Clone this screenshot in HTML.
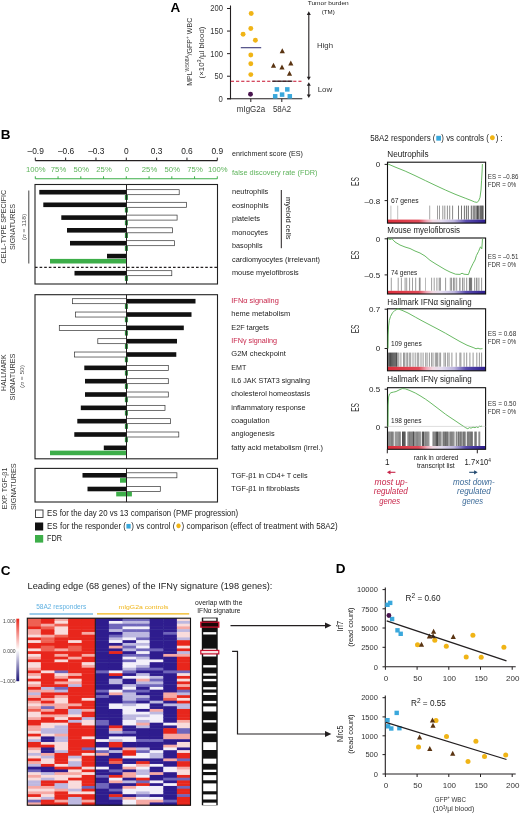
<!DOCTYPE html>
<html><head><meta charset="utf-8"><style>
html,body{margin:0;padding:0;background:#fff;}
svg{display:block;font-family:"Liberation Sans", sans-serif;will-change:transform;}
</style></head><body>
<svg width="520" height="815" viewBox="0 0 520 815">
<defs>
<linearGradient id="rg" x1="0" x2="1" y1="0" y2="0">
<stop offset="0" stop-color="#dc2f3c"/><stop offset="0.32" stop-color="#e04a58"/>
<stop offset="0.40" stop-color="#f0a8b8"/><stop offset="0.46" stop-color="#f2d8e2"/>
<stop offset="0.55" stop-color="#e4dcf0"/><stop offset="0.68" stop-color="#bcb4de"/>
<stop offset="0.80" stop-color="#5a4cae"/><stop offset="1" stop-color="#2c1c8c"/>
</linearGradient>
<filter id="hb" x="-0.02" y="-0.02" width="1.04" height="1.04"><feGaussianBlur stdDeviation="0.35"/></filter>
<linearGradient id="cs" x1="0" x2="0" y1="0" y2="1">
<stop offset="0" stop-color="#e8281c"/><stop offset="0.5" stop-color="#ffffff"/><stop offset="1" stop-color="#1c1478"/>
</linearGradient>
</defs>
<text x="170.50" y="12.20" font-size="13.5" fill="#000" text-anchor="start" font-weight="bold" >A</text>
<line x1="230.50" y1="5.50" x2="230.50" y2="99.30" stroke="#231f20" stroke-width="1.1" />
<line x1="227.00" y1="98.80" x2="230.50" y2="98.80" stroke="#231f20" stroke-width="1" />
<text x="222.90" y="101.70" font-size="8.3" fill="#333" text-anchor="end" textLength="4.30" lengthAdjust="spacingAndGlyphs" >0</text>
<line x1="227.00" y1="76.22" x2="230.50" y2="76.22" stroke="#231f20" stroke-width="1" />
<text x="222.90" y="79.12" font-size="8.3" fill="#333" text-anchor="end" textLength="8.30" lengthAdjust="spacingAndGlyphs" >50</text>
<line x1="227.00" y1="53.65" x2="230.50" y2="53.65" stroke="#231f20" stroke-width="1" />
<text x="222.90" y="56.55" font-size="8.3" fill="#333" text-anchor="end" textLength="12.70" lengthAdjust="spacingAndGlyphs" >100</text>
<line x1="227.00" y1="31.07" x2="230.50" y2="31.07" stroke="#231f20" stroke-width="1" />
<text x="222.90" y="33.97" font-size="8.3" fill="#333" text-anchor="end" textLength="12.70" lengthAdjust="spacingAndGlyphs" >150</text>
<line x1="227.00" y1="8.50" x2="230.50" y2="8.50" stroke="#231f20" stroke-width="1" />
<text x="222.90" y="11.40" font-size="8.3" fill="#333" text-anchor="end" textLength="12.70" lengthAdjust="spacingAndGlyphs" >200</text>
<line x1="227.00" y1="98.80" x2="302.30" y2="98.80" stroke="#231f20" stroke-width="1.1" />
<line x1="250.80" y1="98.80" x2="250.80" y2="102.00" stroke="#231f20" stroke-width="1" />
<line x1="281.80" y1="98.80" x2="281.80" y2="102.00" stroke="#231f20" stroke-width="1" />
<text x="251.00" y="112.30" font-size="8.2" fill="#333" text-anchor="middle" textLength="28.30" lengthAdjust="spacingAndGlyphs" >mIgG2a</text>
<text x="282.00" y="112.30" font-size="8.2" fill="#333" text-anchor="middle" textLength="18.20" lengthAdjust="spacingAndGlyphs" >58A2</text>
<text x="189.6" y="51.8" font-size="8.0" fill="#333" text-anchor="middle" transform="rotate(-90 189.6 51.8)" dy="2.8" textLength="68" lengthAdjust="spacingAndGlyphs">MPL<tspan font-size="5.6" dy="-2.9">W508A</tspan><tspan dy="2.9">/GFP</tspan><tspan font-size="5.6" dy="-2.9">+</tspan><tspan dy="2.9"> WBC</tspan></text>
<text x="201.3" y="52.5" font-size="7.4" fill="#333" text-anchor="middle" transform="rotate(-90 201.3 52.5)" dy="2.5" textLength="52" lengthAdjust="spacingAndGlyphs">(×10<tspan font-size="5.2" dy="-2.7">3</tspan><tspan dy="2.7">/µl blood)</tspan></text>
<circle cx="251.20" cy="13.50" r="2.45" fill="#f0b416"/>
<circle cx="250.80" cy="28.50" r="2.45" fill="#f0b416"/>
<circle cx="243.10" cy="34.20" r="2.45" fill="#f0b416"/>
<circle cx="255.40" cy="40.30" r="2.45" fill="#f0b416"/>
<circle cx="250.80" cy="55.00" r="2.45" fill="#f0b416"/>
<circle cx="250.80" cy="63.80" r="2.45" fill="#f0b416"/>
<circle cx="250.80" cy="74.60" r="2.45" fill="#f0b416"/>
<circle cx="250.50" cy="94.30" r="2.45" fill="#4a1650"/>
<line x1="240.80" y1="47.70" x2="261.20" y2="47.70" stroke="#3b3a78" stroke-width="1.1" />
<polygon points="282.30,48.16 279.70,53.14 284.90,53.14" fill="#5a3412"/>
<polygon points="273.50,62.76 270.90,67.74 276.10,67.74" fill="#5a3412"/>
<polygon points="282.00,64.56 279.40,69.54 284.60,69.54" fill="#5a3412"/>
<polygon points="290.80,60.46 288.20,65.44 293.40,65.44" fill="#5a3412"/>
<polygon points="289.50,70.76 286.90,75.74 292.10,75.74" fill="#5a3412"/>
<rect x="274.65" y="87.15" width="4.50" height="4.50" fill="#3aa8dc"/>
<rect x="285.05" y="87.15" width="4.50" height="4.50" fill="#3aa8dc"/>
<rect x="272.95" y="94.05" width="4.50" height="4.50" fill="#3aa8dc"/>
<rect x="279.85" y="92.35" width="4.50" height="4.50" fill="#3aa8dc"/>
<rect x="287.55" y="94.05" width="4.50" height="4.50" fill="#3aa8dc"/>
<line x1="230.80" y1="81.20" x2="301.50" y2="81.20" stroke="#c8102e" stroke-width="1.1" stroke-dasharray="3.2 2"/>
<line x1="272.30" y1="81.20" x2="292.30" y2="81.20" stroke="#231f20" stroke-width="1.2" />
<text x="328.20" y="5.40" font-size="6.2" fill="#222" text-anchor="middle" textLength="41.00" lengthAdjust="spacingAndGlyphs" >Tumor burden</text>
<text x="328.20" y="13.80" font-size="6.2" fill="#222" text-anchor="middle" textLength="13.00" lengthAdjust="spacingAndGlyphs" >(TM)</text>
<line x1="308.80" y1="13.80" x2="308.80" y2="77.80" stroke="#231f20" stroke-width="1.1" />
<polygon points="308.8,11.3 306.8,14.9 310.8,14.9" fill="#231f20"/>
<polygon points="308.8,80.3 306.8,76.7 310.8,76.7" fill="#231f20"/>
<line x1="308.80" y1="84.70" x2="308.80" y2="95.50" stroke="#231f20" stroke-width="1.1" />
<polygon points="308.8,82.2 306.8,85.8 310.8,85.8" fill="#231f20"/>
<polygon points="308.8,98.0 306.8,94.4 310.8,94.4" fill="#231f20"/>
<text x="317.00" y="48.30" font-size="8.0" fill="#333" text-anchor="start" textLength="16.00" lengthAdjust="spacingAndGlyphs" >High</text>
<text x="317.70" y="92.10" font-size="8.0" fill="#333" text-anchor="start" textLength="14.60" lengthAdjust="spacingAndGlyphs" >Low</text>
<text x="0.80" y="138.80" font-size="13.5" fill="#000" text-anchor="start" font-weight="bold" >B</text>
<line x1="35.30" y1="160.60" x2="217.30" y2="160.60" stroke="#231f20" stroke-width="1.1" />
<line x1="35.31" y1="157.60" x2="35.31" y2="160.60" stroke="#231f20" stroke-width="1" />
<text x="35.71" y="153.90" font-size="8.4" fill="#222" text-anchor="middle" >–0.9</text>
<line x1="65.64" y1="157.60" x2="65.64" y2="160.60" stroke="#231f20" stroke-width="1" />
<text x="66.04" y="153.90" font-size="8.4" fill="#222" text-anchor="middle" >–0.6</text>
<line x1="95.97" y1="157.60" x2="95.97" y2="160.60" stroke="#231f20" stroke-width="1" />
<text x="96.37" y="153.90" font-size="8.4" fill="#222" text-anchor="middle" >–0.3</text>
<line x1="126.30" y1="157.60" x2="126.30" y2="160.60" stroke="#231f20" stroke-width="1" />
<text x="126.30" y="153.90" font-size="8.4" fill="#222" text-anchor="middle" >0</text>
<line x1="156.63" y1="157.60" x2="156.63" y2="160.60" stroke="#231f20" stroke-width="1" />
<text x="156.63" y="153.90" font-size="8.4" fill="#222" text-anchor="middle" >0.3</text>
<line x1="186.96" y1="157.60" x2="186.96" y2="160.60" stroke="#231f20" stroke-width="1" />
<text x="186.96" y="153.90" font-size="8.4" fill="#222" text-anchor="middle" >0.6</text>
<line x1="217.29" y1="157.60" x2="217.29" y2="160.60" stroke="#231f20" stroke-width="1" />
<text x="217.29" y="153.90" font-size="8.4" fill="#222" text-anchor="middle" >0.9</text>
<line x1="35.30" y1="178.80" x2="217.30" y2="178.80" stroke="#3dae49" stroke-width="1.1" />
<line x1="35.30" y1="176.30" x2="35.30" y2="178.80" stroke="#3dae49" stroke-width="1" />
<text x="35.80" y="172.10" font-size="7.7" fill="#5db35a" text-anchor="middle" >100%</text>
<line x1="58.05" y1="176.30" x2="58.05" y2="178.80" stroke="#3dae49" stroke-width="1" />
<text x="58.55" y="172.10" font-size="7.7" fill="#5db35a" text-anchor="middle" >75%</text>
<line x1="80.80" y1="176.30" x2="80.80" y2="178.80" stroke="#3dae49" stroke-width="1" />
<text x="81.30" y="172.10" font-size="7.7" fill="#5db35a" text-anchor="middle" >50%</text>
<line x1="103.55" y1="176.30" x2="103.55" y2="178.80" stroke="#3dae49" stroke-width="1" />
<text x="104.05" y="172.10" font-size="7.7" fill="#5db35a" text-anchor="middle" >25%</text>
<line x1="126.30" y1="176.30" x2="126.30" y2="178.80" stroke="#3dae49" stroke-width="1" />
<text x="126.80" y="172.10" font-size="7.7" fill="#5db35a" text-anchor="middle" >0</text>
<line x1="149.05" y1="176.30" x2="149.05" y2="178.80" stroke="#3dae49" stroke-width="1" />
<text x="149.55" y="172.10" font-size="7.7" fill="#5db35a" text-anchor="middle" >25%</text>
<line x1="171.80" y1="176.30" x2="171.80" y2="178.80" stroke="#3dae49" stroke-width="1" />
<text x="172.30" y="172.10" font-size="7.7" fill="#5db35a" text-anchor="middle" >50%</text>
<line x1="194.55" y1="176.30" x2="194.55" y2="178.80" stroke="#3dae49" stroke-width="1" />
<text x="195.05" y="172.10" font-size="7.7" fill="#5db35a" text-anchor="middle" >75%</text>
<line x1="217.30" y1="176.30" x2="217.30" y2="178.80" stroke="#3dae49" stroke-width="1" />
<text x="217.80" y="172.10" font-size="7.7" fill="#5db35a" text-anchor="middle" >100%</text>
<text x="232.00" y="155.60" font-size="7.4" fill="#222" text-anchor="start" textLength="71.00" lengthAdjust="spacingAndGlyphs" >enrichment score (ES)</text>
<text x="232.00" y="174.60" font-size="7.4" fill="#5db35a" text-anchor="start" textLength="85.50" lengthAdjust="spacingAndGlyphs" >false discovery rate (FDR)</text>
<rect x="35.00" y="184.50" width="182.50" height="99.50" fill="none" stroke="#222" stroke-width="1.1"/>
<rect x="39.30" y="189.90" width="87.20" height="4.60" fill="#111"/>
<rect x="126.50" y="189.70" width="52.70" height="5.00" fill="#fff" stroke="#333" stroke-width="0.7"/>
<rect x="124.90" y="194.90" width="3.00" height="5.00" fill="#2a8a3a"/>
<rect x="43.30" y="202.50" width="83.20" height="4.60" fill="#111"/>
<rect x="126.50" y="202.30" width="60.10" height="5.00" fill="#fff" stroke="#333" stroke-width="0.7"/>
<rect x="124.90" y="207.50" width="3.00" height="5.00" fill="#2a8a3a"/>
<rect x="61.30" y="215.30" width="65.20" height="4.60" fill="#111"/>
<rect x="126.50" y="215.10" width="50.60" height="5.00" fill="#fff" stroke="#333" stroke-width="0.7"/>
<rect x="124.90" y="220.30" width="3.00" height="5.00" fill="#2a8a3a"/>
<rect x="67.00" y="228.00" width="59.50" height="4.60" fill="#111"/>
<rect x="126.50" y="227.80" width="46.00" height="5.00" fill="#fff" stroke="#333" stroke-width="0.7"/>
<rect x="124.90" y="233.00" width="3.00" height="5.00" fill="#2a8a3a"/>
<rect x="70.00" y="240.90" width="56.50" height="4.60" fill="#111"/>
<rect x="126.50" y="240.70" width="48.10" height="5.00" fill="#fff" stroke="#333" stroke-width="0.7"/>
<rect x="124.90" y="245.90" width="3.00" height="5.00" fill="#2a8a3a"/>
<rect x="107.00" y="253.80" width="19.50" height="4.60" fill="#111"/>
<rect x="50.00" y="258.90" width="76.50" height="4.60" fill="#3dae49"/>
<line x1="35.00" y1="267.40" x2="217.50" y2="267.40" stroke="#231f20" stroke-width="1.1" stroke-dasharray="2.6 2"/>
<rect x="74.50" y="270.90" width="52.00" height="4.60" fill="#111"/>
<rect x="126.50" y="270.70" width="45.30" height="5.00" fill="#fff" stroke="#333" stroke-width="0.7"/>
<rect x="124.90" y="275.90" width="3.00" height="5.00" fill="#2a8a3a"/>
<line x1="126.50" y1="184.50" x2="126.50" y2="284.00" stroke="#231f20" stroke-width="1" />
<rect x="35.00" y="294.70" width="182.50" height="164.10" fill="none" stroke="#222" stroke-width="1.1"/>
<rect x="126.50" y="298.90" width="69.00" height="4.60" fill="#111"/>
<rect x="72.50" y="298.70" width="54.00" height="5.00" fill="#fff" stroke="#333" stroke-width="0.7"/>
<rect x="124.90" y="303.90" width="3.00" height="5.00" fill="#2a8a3a"/>
<rect x="126.50" y="312.23" width="65.00" height="4.60" fill="#111"/>
<rect x="75.50" y="312.03" width="51.00" height="5.00" fill="#fff" stroke="#333" stroke-width="0.7"/>
<rect x="124.90" y="317.23" width="3.00" height="5.00" fill="#2a8a3a"/>
<rect x="126.50" y="325.56" width="57.30" height="4.60" fill="#111"/>
<rect x="59.30" y="325.36" width="67.20" height="5.00" fill="#fff" stroke="#333" stroke-width="0.7"/>
<rect x="124.90" y="330.56" width="3.00" height="5.00" fill="#2a8a3a"/>
<rect x="126.50" y="338.89" width="50.50" height="4.60" fill="#111"/>
<rect x="97.80" y="338.69" width="28.70" height="5.00" fill="#fff" stroke="#333" stroke-width="0.7"/>
<rect x="124.90" y="343.89" width="3.00" height="5.00" fill="#2a8a3a"/>
<rect x="126.50" y="352.22" width="49.80" height="4.60" fill="#111"/>
<rect x="74.50" y="352.02" width="52.00" height="5.00" fill="#fff" stroke="#333" stroke-width="0.7"/>
<rect x="124.90" y="357.22" width="3.00" height="5.00" fill="#2a8a3a"/>
<rect x="84.30" y="365.55" width="42.20" height="4.60" fill="#111"/>
<rect x="126.50" y="365.35" width="41.80" height="5.00" fill="#fff" stroke="#333" stroke-width="0.7"/>
<rect x="124.90" y="370.55" width="3.00" height="5.00" fill="#2a8a3a"/>
<rect x="85.00" y="378.88" width="41.50" height="4.60" fill="#111"/>
<rect x="126.50" y="378.68" width="41.80" height="5.00" fill="#fff" stroke="#333" stroke-width="0.7"/>
<rect x="124.90" y="383.88" width="3.00" height="5.00" fill="#2a8a3a"/>
<rect x="85.00" y="392.21" width="41.50" height="4.60" fill="#111"/>
<rect x="126.50" y="392.01" width="41.80" height="5.00" fill="#fff" stroke="#333" stroke-width="0.7"/>
<rect x="124.90" y="397.21" width="3.00" height="5.00" fill="#2a8a3a"/>
<rect x="80.80" y="405.54" width="45.70" height="4.60" fill="#111"/>
<rect x="126.50" y="405.34" width="38.50" height="5.00" fill="#fff" stroke="#333" stroke-width="0.7"/>
<rect x="124.90" y="410.54" width="3.00" height="5.00" fill="#2a8a3a"/>
<rect x="77.30" y="418.87" width="49.20" height="4.60" fill="#111"/>
<rect x="126.50" y="418.67" width="44.00" height="5.00" fill="#fff" stroke="#333" stroke-width="0.7"/>
<rect x="124.90" y="423.87" width="3.00" height="5.00" fill="#2a8a3a"/>
<rect x="74.30" y="432.20" width="52.20" height="4.60" fill="#111"/>
<rect x="126.50" y="432.00" width="52.30" height="5.00" fill="#fff" stroke="#333" stroke-width="0.7"/>
<rect x="124.90" y="437.20" width="3.00" height="5.00" fill="#2a8a3a"/>
<rect x="103.80" y="445.53" width="22.70" height="4.60" fill="#111"/>
<rect x="50.00" y="450.63" width="76.50" height="4.60" fill="#3dae49"/>
<line x1="126.50" y1="294.70" x2="126.50" y2="458.80" stroke="#231f20" stroke-width="1" />
<rect x="35.00" y="468.40" width="182.50" height="33.60" fill="none" stroke="#222" stroke-width="1.1"/>
<rect x="82.50" y="473.00" width="44.00" height="4.60" fill="#111"/>
<rect x="126.50" y="472.80" width="50.40" height="5.00" fill="#fff" stroke="#333" stroke-width="0.7"/>
<rect x="120.00" y="478.10" width="6.50" height="4.60" fill="#3dae49"/>
<rect x="87.50" y="486.70" width="39.00" height="4.60" fill="#111"/>
<rect x="126.50" y="486.50" width="33.80" height="5.00" fill="#fff" stroke="#333" stroke-width="0.7"/>
<rect x="116.20" y="491.80" width="15.70" height="4.60" fill="#3dae49"/>
<line x1="126.50" y1="468.40" x2="126.50" y2="502.00" stroke="#231f20" stroke-width="1" />
<text x="232.00" y="194.25" font-size="7.8" fill="#222" text-anchor="start" textLength="36.30" lengthAdjust="spacingAndGlyphs" >neutrophils</text>
<text x="232.00" y="207.50" font-size="7.8" fill="#222" text-anchor="start" textLength="36.70" lengthAdjust="spacingAndGlyphs" >eosinophils</text>
<text x="232.00" y="221.25" font-size="7.8" fill="#222" text-anchor="start" textLength="28.00" lengthAdjust="spacingAndGlyphs" >platelets</text>
<text x="232.00" y="235.00" font-size="7.8" fill="#222" text-anchor="start" textLength="36.00" lengthAdjust="spacingAndGlyphs" >monocytes</text>
<text x="232.00" y="248.00" font-size="7.8" fill="#222" text-anchor="start" textLength="30.50" lengthAdjust="spacingAndGlyphs" >basophils</text>
<text x="232.00" y="261.50" font-size="7.8" fill="#222" text-anchor="start" textLength="88.00" lengthAdjust="spacingAndGlyphs" >cardiomyocytes (irrelevant)</text>
<text x="232.00" y="274.50" font-size="7.8" fill="#222" text-anchor="start" textLength="66.80" lengthAdjust="spacingAndGlyphs" >mouse myelofibrosis</text>
<line x1="281.30" y1="190.00" x2="281.30" y2="248.20" stroke="#231f20" stroke-width="1" />
<text x="288.80" y="218.30" font-size="7.4" fill="#222" text-anchor="middle" textLength="42.50" lengthAdjust="spacingAndGlyphs" transform="rotate(90 288.80 218.30)" dy="2.4">myeloid cells</text>
<text x="231.30" y="302.70" font-size="7.8" fill="#c8264a" text-anchor="start" textLength="47.50" lengthAdjust="spacingAndGlyphs" >IFNα signaling</text>
<text x="231.30" y="316.45" font-size="7.8" fill="#222" text-anchor="start" textLength="58.80" lengthAdjust="spacingAndGlyphs" >heme metabolism</text>
<text x="231.30" y="329.70" font-size="7.8" fill="#222" text-anchor="start" textLength="37.50" lengthAdjust="spacingAndGlyphs" >E2F targets</text>
<text x="231.30" y="342.95" font-size="7.8" fill="#c8264a" text-anchor="start" textLength="45.80" lengthAdjust="spacingAndGlyphs" >IFNγ signaling</text>
<text x="231.30" y="355.95" font-size="7.8" fill="#222" text-anchor="start" textLength="54.50" lengthAdjust="spacingAndGlyphs" >G2M checkpoint</text>
<text x="231.30" y="370.20" font-size="7.8" fill="#222" text-anchor="start" textLength="15.00" lengthAdjust="spacingAndGlyphs" >EMT</text>
<text x="231.30" y="382.95" font-size="7.8" fill="#222" text-anchor="start" textLength="78.80" lengthAdjust="spacingAndGlyphs" >IL6 JAK STAT3 signaling</text>
<text x="231.30" y="395.95" font-size="7.8" fill="#222" text-anchor="start" textLength="78.80" lengthAdjust="spacingAndGlyphs" >cholesterol homeostasis</text>
<text x="231.30" y="409.70" font-size="7.8" fill="#222" text-anchor="start" textLength="74.30" lengthAdjust="spacingAndGlyphs" >inflammatory response</text>
<text x="231.30" y="422.95" font-size="7.8" fill="#222" text-anchor="start" textLength="38.30" lengthAdjust="spacingAndGlyphs" >coagulation</text>
<text x="231.30" y="436.45" font-size="7.8" fill="#222" text-anchor="start" textLength="43.30" lengthAdjust="spacingAndGlyphs" >angiogenesis</text>
<text x="231.30" y="449.70" font-size="7.8" fill="#222" text-anchor="start" textLength="91.80" lengthAdjust="spacingAndGlyphs" >fatty acid metabolism (irrel.)</text>
<text x="231.30" y="477.60" font-size="7.9" fill="#222" text-anchor="start" textLength="76.30" lengthAdjust="spacingAndGlyphs" >TGF-β1 in CD4+ T cells</text>
<text x="231.30" y="490.60" font-size="7.9" fill="#222" text-anchor="start" textLength="68.30" lengthAdjust="spacingAndGlyphs" >TGF-β1 in fibroblasts</text>
<text x="3.70" y="226.70" font-size="7.2" fill="#333" text-anchor="middle" textLength="73.60" lengthAdjust="spacingAndGlyphs" transform="rotate(-90 3.70 226.70)" dy="2.59">CELL-TYPE SPECIFIC</text>
<text x="12.90" y="227.00" font-size="7.2" fill="#333" text-anchor="middle" textLength="46.00" lengthAdjust="spacingAndGlyphs" transform="rotate(-90 12.90 227.00)" dy="2.59">SIGNATURES</text>
<text x="23.6" y="227" font-size="5.6" fill="#555" text-anchor="middle" transform="rotate(-90 23.6 227)" dy="2" textLength="26.4" lengthAdjust="spacingAndGlyphs">(<tspan font-style="italic">n</tspan> = 118)</text>
<line x1="28.80" y1="190.50" x2="28.80" y2="263.50" stroke="#444" stroke-width="1" />
<text x="3.80" y="372.80" font-size="7.2" fill="#333" text-anchor="middle" textLength="36.40" lengthAdjust="spacingAndGlyphs" transform="rotate(-90 3.80 372.80)" dy="2.59">HALLMARK</text>
<text x="12.50" y="377.00" font-size="7.2" fill="#333" text-anchor="middle" textLength="47.00" lengthAdjust="spacingAndGlyphs" transform="rotate(-90 12.50 377.00)" dy="2.59">SIGNATURES</text>
<text x="22.4" y="376.5" font-size="5.6" fill="#555" text-anchor="middle" transform="rotate(-90 22.4 376.5)" dy="2" textLength="23" lengthAdjust="spacingAndGlyphs">(<tspan font-style="italic">n</tspan> = 50)</text>
<text x="4.10" y="488.50" font-size="7.2" fill="#333" text-anchor="middle" textLength="41.70" lengthAdjust="spacingAndGlyphs" transform="rotate(-90 4.10 488.50)" dy="2.59">EXP. TGF-β1</text>
<text x="13.50" y="486.70" font-size="7.2" fill="#333" text-anchor="middle" textLength="46.70" lengthAdjust="spacingAndGlyphs" transform="rotate(-90 13.50 486.70)" dy="2.59">SIGNATURES</text>
<rect x="35.50" y="510.00" width="7.50" height="7.50" fill="#fff" stroke="#333" stroke-width="0.9"/>
<rect x="35.00" y="522.50" width="8.20" height="8.00" fill="#111"/>
<rect x="35.00" y="535.00" width="8.20" height="7.60" fill="#3dae49"/>
<text x="47.00" y="516.40" font-size="8.8" fill="#222" text-anchor="start" textLength="191.20" lengthAdjust="spacingAndGlyphs" >ES for the day 20 vs 13 comparison (PMF progression)</text>
<text x="47" y="528.6" font-size="8.8" fill="#222" textLength="290.7" lengthAdjust="spacingAndGlyphs">ES for the responder (<tspan fill="#3aa8dc" font-size="9.5">■</tspan>) vs control (<tspan fill="#f0b416" font-size="11">●</tspan>) comparison (effect of treatment with 58A2)</text>
<text x="47.00" y="541.30" font-size="8.8" fill="#222" text-anchor="start" textLength="15.00" lengthAdjust="spacingAndGlyphs" >FDR</text>
<text x="370.2" y="140.8" font-size="8.2" fill="#222" textLength="132.5" lengthAdjust="spacingAndGlyphs">58A2 responders (<tspan fill="#3aa8dc" font-size="10">■</tspan>) vs controls (<tspan fill="#f0b416" font-size="11.5">●</tspan>) :</text>
<text x="387.30" y="157.00" font-size="8.5" fill="#222" text-anchor="start" textLength="41.30" lengthAdjust="spacingAndGlyphs" >Neutrophils</text>
<line x1="390.90" y1="205.60" x2="390.90" y2="219.60" stroke="rgb(177,177,177)" stroke-width="0.8" />
<line x1="397.70" y1="205.60" x2="397.70" y2="219.60" stroke="rgb(175,175,175)" stroke-width="0.8" />
<line x1="429.70" y1="205.60" x2="429.70" y2="219.60" stroke="rgb(147,147,147)" stroke-width="0.8" />
<line x1="437.50" y1="205.60" x2="437.50" y2="219.60" stroke="rgb(134,134,134)" stroke-width="0.8" />
<line x1="439.50" y1="205.60" x2="439.50" y2="219.60" stroke="rgb(131,131,131)" stroke-width="0.8" />
<line x1="442.80" y1="205.60" x2="442.80" y2="219.60" stroke="rgb(125,125,125)" stroke-width="0.8" />
<line x1="444.80" y1="205.60" x2="444.80" y2="219.60" stroke="rgb(121,121,121)" stroke-width="0.8" />
<line x1="447.40" y1="205.60" x2="447.40" y2="219.60" stroke="rgb(115,115,115)" stroke-width="0.8" />
<line x1="449.70" y1="205.60" x2="449.70" y2="219.60" stroke="rgb(111,111,111)" stroke-width="0.8" />
<line x1="452.60" y1="205.60" x2="452.60" y2="219.60" stroke="rgb(104,104,104)" stroke-width="0.8" />
<line x1="458.50" y1="205.60" x2="458.50" y2="219.60" stroke="rgb(90,90,90)" stroke-width="0.8" />
<line x1="461.50" y1="205.60" x2="461.50" y2="219.60" stroke="rgb(83,83,83)" stroke-width="0.8" />
<line x1="464.40" y1="205.60" x2="464.40" y2="219.60" stroke="rgb(75,75,75)" stroke-width="0.8" />
<line x1="466.40" y1="205.60" x2="466.40" y2="219.60" stroke="rgb(70,70,70)" stroke-width="0.8" />
<line x1="468.30" y1="205.60" x2="468.30" y2="219.60" stroke="rgb(64,64,64)" stroke-width="0.8" />
<line x1="471.30" y1="205.60" x2="471.30" y2="219.60" stroke="rgb(56,56,56)" stroke-width="0.8" />
<line x1="473.20" y1="205.60" x2="473.20" y2="219.60" stroke="rgb(50,50,50)" stroke-width="0.8" />
<line x1="474.80" y1="205.60" x2="474.80" y2="219.60" stroke="rgb(46,46,46)" stroke-width="0.8" />
<line x1="476.20" y1="205.60" x2="476.20" y2="219.60" stroke="rgb(41,41,41)" stroke-width="0.8" />
<line x1="477.50" y1="205.60" x2="477.50" y2="219.60" stroke="rgb(37,37,37)" stroke-width="0.8" />
<line x1="478.70" y1="205.60" x2="478.70" y2="219.60" stroke="rgb(33,33,33)" stroke-width="0.8" />
<line x1="480.10" y1="205.60" x2="480.10" y2="219.60" stroke="rgb(29,29,29)" stroke-width="0.8" />
<line x1="481.10" y1="205.60" x2="481.10" y2="219.60" stroke="rgb(26,26,26)" stroke-width="0.8" />
<line x1="482.10" y1="205.60" x2="482.10" y2="219.60" stroke="rgb(22,22,22)" stroke-width="0.8" />
<line x1="483.00" y1="205.60" x2="483.00" y2="219.60" stroke="rgb(20,20,20)" stroke-width="0.8" />
<rect x="387.50" y="219.60" width="98.10" height="3.50" fill="url(#rg)"/>
<rect x="387.50" y="162.20" width="98.10" height="60.90" fill="none" stroke="#111" stroke-width="1.1"/>
<line x1="384.60" y1="164.40" x2="387.50" y2="164.40" stroke="#231f20" stroke-width="1" />
<text x="380.20" y="167.30" font-size="8.0" fill="#222" text-anchor="end" >0</text>
<line x1="384.60" y1="200.60" x2="387.50" y2="200.60" stroke="#231f20" stroke-width="1" />
<text x="380.20" y="203.50" font-size="8.0" fill="#222" text-anchor="end" >–0.8</text>
<text x="391.00" y="203.40" font-size="7.6" fill="#222" text-anchor="start" textLength="27.70" lengthAdjust="spacingAndGlyphs" >67 genes</text>
<polyline points="388,164 395,167 405.2,171.1 415,175.6 425.4,180.6 435,185.2 445.6,190.1 455,194.2 465.8,198.4 471,200.4 474.5,201.9 476.9,202.4 478.5,201.2 480,197.4 481,190 481.6,180.2 482.1,171 482.4,164" fill="none" stroke="#58b152" stroke-width="0.9"/>
<text x="487.80" y="179.30" font-size="7.0" fill="#333" text-anchor="start" textLength="30.50" lengthAdjust="spacingAndGlyphs" >ES = –0.86</text>
<text x="487.80" y="187.30" font-size="7.0" fill="#333" text-anchor="start" textLength="28.50" lengthAdjust="spacingAndGlyphs" >FDR = 0%</text>
<text x="355.00" y="181.50" font-size="11" fill="#333" text-anchor="middle" textLength="8.80" lengthAdjust="spacingAndGlyphs" transform="rotate(-90 355.00 181.50)" dy="3.9">ES</text>
<text x="387.30" y="232.70" font-size="8.5" fill="#222" text-anchor="start" textLength="72.60" lengthAdjust="spacingAndGlyphs" >Mouse myelofibrosis</text>
<line x1="391.30" y1="277.70" x2="391.30" y2="290.80" stroke="rgb(135,135,135)" stroke-width="0.8" />
<line x1="398.20" y1="277.70" x2="398.20" y2="290.80" stroke="rgb(135,135,135)" stroke-width="0.8" />
<line x1="401.40" y1="277.70" x2="401.40" y2="290.80" stroke="rgb(135,135,135)" stroke-width="0.8" />
<line x1="405.10" y1="277.70" x2="405.10" y2="290.80" stroke="rgb(125,125,125)" stroke-width="0.8" />
<line x1="406.70" y1="277.70" x2="406.70" y2="290.80" stroke="rgb(135,135,135)" stroke-width="0.8" />
<line x1="409.60" y1="277.70" x2="409.60" y2="290.80" stroke="rgb(125,125,125)" stroke-width="0.8" />
<line x1="412.50" y1="277.70" x2="412.50" y2="290.80" stroke="rgb(135,135,135)" stroke-width="0.8" />
<line x1="415.70" y1="277.70" x2="415.70" y2="290.80" stroke="rgb(125,125,125)" stroke-width="0.8" />
<line x1="419.40" y1="277.70" x2="419.40" y2="290.80" stroke="rgb(114,114,114)" stroke-width="0.8" />
<line x1="420.10" y1="277.70" x2="420.10" y2="290.80" stroke="rgb(125,125,125)" stroke-width="0.8" />
<line x1="425.50" y1="277.70" x2="425.50" y2="290.80" stroke="rgb(167,167,167)" stroke-width="0.8" />
<line x1="431.60" y1="277.70" x2="431.60" y2="290.80" stroke="rgb(135,135,135)" stroke-width="0.8" />
<line x1="434.20" y1="277.70" x2="434.20" y2="290.80" stroke="rgb(135,135,135)" stroke-width="0.8" />
<line x1="436.90" y1="277.70" x2="436.90" y2="290.80" stroke="rgb(125,125,125)" stroke-width="0.8" />
<line x1="439.20" y1="277.70" x2="439.20" y2="290.80" stroke="rgb(114,114,114)" stroke-width="0.8" />
<line x1="440.30" y1="277.70" x2="440.30" y2="290.80" stroke="rgb(104,104,104)" stroke-width="0.8" />
<line x1="445.60" y1="277.70" x2="445.60" y2="290.80" stroke="rgb(125,125,125)" stroke-width="0.8" />
<line x1="450.30" y1="277.70" x2="450.30" y2="290.80" stroke="rgb(125,125,125)" stroke-width="0.8" />
<line x1="451.60" y1="277.70" x2="451.60" y2="290.80" stroke="rgb(114,114,114)" stroke-width="0.8" />
<line x1="453.50" y1="277.70" x2="453.50" y2="290.80" stroke="rgb(125,125,125)" stroke-width="0.8" />
<line x1="454.80" y1="277.70" x2="454.80" y2="290.80" stroke="rgb(114,114,114)" stroke-width="0.8" />
<line x1="456.70" y1="277.70" x2="456.70" y2="290.80" stroke="rgb(125,125,125)" stroke-width="0.8" />
<line x1="459.90" y1="277.70" x2="459.90" y2="290.80" stroke="rgb(72,72,72)" stroke-width="0.8" />
<line x1="462.50" y1="277.70" x2="462.50" y2="290.80" stroke="rgb(125,125,125)" stroke-width="0.8" />
<line x1="464.10" y1="277.70" x2="464.10" y2="290.80" stroke="rgb(114,114,114)" stroke-width="0.8" />
<line x1="466.70" y1="277.70" x2="466.70" y2="290.80" stroke="rgb(114,114,114)" stroke-width="0.8" />
<line x1="469.40" y1="277.70" x2="469.40" y2="290.80" stroke="rgb(72,72,72)" stroke-width="0.8" />
<line x1="470.40" y1="277.70" x2="470.40" y2="290.80" stroke="rgb(62,62,62)" stroke-width="0.8" />
<line x1="471.60" y1="277.70" x2="471.60" y2="290.80" stroke="rgb(72,72,72)" stroke-width="0.8" />
<line x1="474.70" y1="277.70" x2="474.70" y2="290.80" stroke="rgb(114,114,114)" stroke-width="0.8" />
<line x1="476.80" y1="277.70" x2="476.80" y2="290.80" stroke="rgb(62,62,62)" stroke-width="0.8" />
<line x1="478.90" y1="277.70" x2="478.90" y2="290.80" stroke="rgb(114,114,114)" stroke-width="0.8" />
<line x1="481.60" y1="277.70" x2="481.60" y2="290.80" stroke="rgb(125,125,125)" stroke-width="0.8" />
<rect x="387.50" y="290.80" width="98.10" height="3.20" fill="url(#rg)"/>
<rect x="387.50" y="238.00" width="98.10" height="56.00" fill="none" stroke="#111" stroke-width="1.1"/>
<line x1="384.60" y1="238.80" x2="387.50" y2="238.80" stroke="#231f20" stroke-width="1" />
<text x="380.20" y="241.70" font-size="8.0" fill="#222" text-anchor="end" >0</text>
<line x1="384.60" y1="274.90" x2="387.50" y2="274.90" stroke="#231f20" stroke-width="1" />
<text x="380.20" y="277.80" font-size="8.0" fill="#222" text-anchor="end" >–0.5</text>
<text x="391.00" y="275.40" font-size="7.6" fill="#222" text-anchor="start" textLength="26.20" lengthAdjust="spacingAndGlyphs" >74 genes</text>
<polyline points="388,238.6 390,239.5 392,238.8 395,242 400,245 405,247 410,248.5 415,251 420,253 425,256 430,260.3 435,263.5 440,266.5 445,269.5 450,272 455.6,274.2 460,274.4 462,273.2 464,274.2 468.4,274.6 470.4,269 473,263.6 475,260 476.4,255.6 478.5,251.5 480.5,246.8 481.8,248.8 482.5,238.7" fill="none" stroke="#58b152" stroke-width="0.9"/>
<text x="487.80" y="258.70" font-size="7.0" fill="#333" text-anchor="start" textLength="30.50" lengthAdjust="spacingAndGlyphs" >ES = –0.51</text>
<text x="487.80" y="266.80" font-size="7.0" fill="#333" text-anchor="start" textLength="28.50" lengthAdjust="spacingAndGlyphs" >FDR = 0%</text>
<text x="355.00" y="254.90" font-size="11" fill="#333" text-anchor="middle" textLength="8.80" lengthAdjust="spacingAndGlyphs" transform="rotate(-90 355.00 254.90)" dy="3.9">ES</text>
<text x="387.30" y="305.20" font-size="8.5" fill="#222" text-anchor="start" textLength="84.30" lengthAdjust="spacingAndGlyphs" >Hallmark IFNα signaling</text>
<line x1="388.70" y1="352.60" x2="388.70" y2="366.80" stroke="rgb(41,41,41)" stroke-width="0.8" />
<line x1="389.60" y1="352.60" x2="389.60" y2="366.80" stroke="rgb(41,41,41)" stroke-width="0.8" />
<line x1="390.50" y1="352.60" x2="390.50" y2="366.80" stroke="rgb(41,41,41)" stroke-width="0.8" />
<line x1="391.40" y1="352.60" x2="391.40" y2="366.80" stroke="rgb(41,41,41)" stroke-width="0.8" />
<line x1="392.30" y1="352.60" x2="392.30" y2="366.80" stroke="rgb(41,41,41)" stroke-width="0.8" />
<line x1="393.20" y1="352.60" x2="393.20" y2="366.80" stroke="rgb(41,41,41)" stroke-width="0.8" />
<line x1="394.10" y1="352.60" x2="394.10" y2="366.80" stroke="rgb(41,41,41)" stroke-width="0.8" />
<line x1="395.00" y1="352.60" x2="395.00" y2="366.80" stroke="rgb(41,41,41)" stroke-width="0.8" />
<line x1="395.90" y1="352.60" x2="395.90" y2="366.80" stroke="rgb(41,41,41)" stroke-width="0.8" />
<line x1="396.60" y1="352.60" x2="396.60" y2="366.80" stroke="rgb(41,41,41)" stroke-width="0.8" />
<line x1="397.70" y1="352.60" x2="397.70" y2="366.80" stroke="rgb(125,125,125)" stroke-width="0.8" />
<line x1="398.80" y1="352.60" x2="398.80" y2="366.80" stroke="rgb(125,125,125)" stroke-width="0.8" />
<line x1="400.90" y1="352.60" x2="400.90" y2="366.80" stroke="rgb(125,125,125)" stroke-width="0.8" />
<line x1="403.50" y1="352.60" x2="403.50" y2="366.80" stroke="rgb(125,125,125)" stroke-width="0.8" />
<line x1="404.60" y1="352.60" x2="404.60" y2="366.80" stroke="rgb(125,125,125)" stroke-width="0.8" />
<line x1="406.20" y1="352.60" x2="406.20" y2="366.80" stroke="rgb(125,125,125)" stroke-width="0.8" />
<line x1="407.60" y1="352.60" x2="407.60" y2="366.80" stroke="rgb(125,125,125)" stroke-width="0.8" />
<line x1="409.30" y1="352.60" x2="409.30" y2="366.80" stroke="rgb(125,125,125)" stroke-width="0.8" />
<line x1="410.70" y1="352.60" x2="410.70" y2="366.80" stroke="rgb(125,125,125)" stroke-width="0.8" />
<line x1="413.00" y1="352.60" x2="413.00" y2="366.80" stroke="rgb(125,125,125)" stroke-width="0.8" />
<line x1="415.20" y1="352.60" x2="415.20" y2="366.80" stroke="rgb(125,125,125)" stroke-width="0.8" />
<line x1="417.30" y1="352.60" x2="417.30" y2="366.80" stroke="rgb(125,125,125)" stroke-width="0.8" />
<line x1="418.70" y1="352.60" x2="418.70" y2="366.80" stroke="rgb(125,125,125)" stroke-width="0.8" />
<line x1="421.00" y1="352.60" x2="421.00" y2="366.80" stroke="rgb(125,125,125)" stroke-width="0.8" />
<line x1="423.10" y1="352.60" x2="423.10" y2="366.80" stroke="rgb(125,125,125)" stroke-width="0.8" />
<line x1="425.70" y1="352.60" x2="425.70" y2="366.80" stroke="rgb(125,125,125)" stroke-width="0.8" />
<line x1="427.10" y1="352.60" x2="427.10" y2="366.80" stroke="rgb(125,125,125)" stroke-width="0.8" />
<line x1="429.40" y1="352.60" x2="429.40" y2="366.80" stroke="rgb(125,125,125)" stroke-width="0.8" />
<line x1="431.60" y1="352.60" x2="431.60" y2="366.80" stroke="rgb(125,125,125)" stroke-width="0.8" />
<line x1="433.00" y1="352.60" x2="433.00" y2="366.80" stroke="rgb(125,125,125)" stroke-width="0.8" />
<line x1="435.30" y1="352.60" x2="435.30" y2="366.80" stroke="rgb(125,125,125)" stroke-width="0.8" />
<line x1="436.40" y1="352.60" x2="436.40" y2="366.80" stroke="rgb(125,125,125)" stroke-width="0.8" />
<line x1="437.40" y1="352.60" x2="437.40" y2="366.80" stroke="rgb(125,125,125)" stroke-width="0.8" />
<line x1="439.20" y1="352.60" x2="439.20" y2="366.80" stroke="rgb(125,125,125)" stroke-width="0.8" />
<line x1="440.60" y1="352.60" x2="440.60" y2="366.80" stroke="rgb(125,125,125)" stroke-width="0.8" />
<line x1="444.00" y1="352.60" x2="444.00" y2="366.80" stroke="rgb(125,125,125)" stroke-width="0.8" />
<line x1="445.40" y1="352.60" x2="445.40" y2="366.80" stroke="rgb(125,125,125)" stroke-width="0.8" />
<line x1="447.70" y1="352.60" x2="447.70" y2="366.80" stroke="rgb(125,125,125)" stroke-width="0.8" />
<line x1="449.10" y1="352.60" x2="449.10" y2="366.80" stroke="rgb(125,125,125)" stroke-width="0.8" />
<line x1="451.90" y1="352.60" x2="451.90" y2="366.80" stroke="rgb(125,125,125)" stroke-width="0.8" />
<line x1="456.20" y1="352.60" x2="456.20" y2="366.80" stroke="rgb(125,125,125)" stroke-width="0.8" />
<line x1="459.90" y1="352.60" x2="459.90" y2="366.80" stroke="rgb(125,125,125)" stroke-width="0.8" />
<line x1="460.90" y1="352.60" x2="460.90" y2="366.80" stroke="rgb(125,125,125)" stroke-width="0.8" />
<line x1="464.10" y1="352.60" x2="464.10" y2="366.80" stroke="rgb(125,125,125)" stroke-width="0.8" />
<line x1="466.70" y1="352.60" x2="466.70" y2="366.80" stroke="rgb(125,125,125)" stroke-width="0.8" />
<line x1="469.90" y1="352.60" x2="469.90" y2="366.80" stroke="rgb(125,125,125)" stroke-width="0.8" />
<line x1="473.10" y1="352.60" x2="473.10" y2="366.80" stroke="rgb(125,125,125)" stroke-width="0.8" />
<line x1="476.80" y1="352.60" x2="476.80" y2="366.80" stroke="rgb(125,125,125)" stroke-width="0.8" />
<line x1="479.40" y1="352.60" x2="479.40" y2="366.80" stroke="rgb(125,125,125)" stroke-width="0.8" />
<line x1="481.60" y1="352.60" x2="481.60" y2="366.80" stroke="rgb(125,125,125)" stroke-width="0.8" />
<rect x="387.50" y="366.80" width="98.10" height="4.00" fill="url(#rg)"/>
<rect x="387.50" y="308.80" width="98.10" height="62.00" fill="none" stroke="#111" stroke-width="1.1"/>
<line x1="384.60" y1="309.20" x2="387.50" y2="309.20" stroke="#231f20" stroke-width="1" />
<text x="380.20" y="312.10" font-size="8.0" fill="#222" text-anchor="end" >0.7</text>
<line x1="384.60" y1="348.50" x2="387.50" y2="348.50" stroke="#231f20" stroke-width="1" />
<text x="380.20" y="351.40" font-size="8.0" fill="#222" text-anchor="end" >0</text>
<text x="391.00" y="346.10" font-size="7.6" fill="#222" text-anchor="start" textLength="30.70" lengthAdjust="spacingAndGlyphs" >109 genes</text>
<polyline points="388,348.5 388.2,335 388.6,326 389.3,320.5 390.5,316.5 392.5,312.8 395,310.3 398,308.9 402,310.3 408,313 415.3,317.1 422,320.8 430,325 438,329.2 445.6,333.3 452,337 460,341.6 467,345.2 473.9,347.8 476,348.8 478,348.2 480,348.9 482.5,348.6" fill="none" stroke="#58b152" stroke-width="0.9"/>
<text x="487.80" y="335.50" font-size="7.0" fill="#333" text-anchor="start" textLength="28.50" lengthAdjust="spacingAndGlyphs" >ES = 0.68</text>
<text x="487.80" y="343.50" font-size="7.0" fill="#333" text-anchor="start" textLength="28.50" lengthAdjust="spacingAndGlyphs" >FDR = 0%</text>
<text x="355.00" y="328.90" font-size="11" fill="#333" text-anchor="middle" textLength="8.80" lengthAdjust="spacingAndGlyphs" transform="rotate(-90 355.00 328.90)" dy="3.9">ES</text>
<text x="387.30" y="382.00" font-size="8.5" fill="#222" text-anchor="start" textLength="84.30" lengthAdjust="spacingAndGlyphs" >Hallmark IFNγ signaling</text>
<line x1="388.20" y1="431.60" x2="388.20" y2="446.00" stroke="rgb(99,99,99)" stroke-width="0.8" />
<line x1="389.05" y1="431.60" x2="389.05" y2="446.00" stroke="rgb(104,104,104)" stroke-width="0.8" />
<line x1="389.90" y1="431.60" x2="389.90" y2="446.00" stroke="rgb(88,88,88)" stroke-width="0.8" />
<line x1="390.75" y1="431.60" x2="390.75" y2="446.00" stroke="rgb(106,106,106)" stroke-width="0.8" />
<line x1="391.60" y1="431.60" x2="391.60" y2="446.00" stroke="rgb(92,92,92)" stroke-width="0.8" />
<line x1="392.45" y1="431.60" x2="392.45" y2="446.00" stroke="rgb(97,97,97)" stroke-width="0.8" />
<line x1="393.30" y1="431.60" x2="393.30" y2="446.00" stroke="rgb(107,107,107)" stroke-width="0.8" />
<line x1="395.20" y1="431.60" x2="395.20" y2="446.00" stroke="rgb(103,103,103)" stroke-width="0.8" />
<line x1="396.05" y1="431.60" x2="396.05" y2="446.00" stroke="rgb(118,118,118)" stroke-width="0.8" />
<line x1="396.90" y1="431.60" x2="396.90" y2="446.00" stroke="rgb(106,106,106)" stroke-width="0.8" />
<line x1="397.75" y1="431.60" x2="397.75" y2="446.00" stroke="rgb(117,117,117)" stroke-width="0.8" />
<line x1="398.60" y1="431.60" x2="398.60" y2="446.00" stroke="rgb(116,116,116)" stroke-width="0.8" />
<line x1="399.45" y1="431.60" x2="399.45" y2="446.00" stroke="rgb(106,106,106)" stroke-width="0.8" />
<line x1="400.30" y1="431.60" x2="400.30" y2="446.00" stroke="rgb(93,93,93)" stroke-width="0.8" />
<line x1="402.50" y1="431.60" x2="402.50" y2="446.00" stroke="rgb(42,42,42)" stroke-width="0.8" />
<line x1="403.35" y1="431.60" x2="403.35" y2="446.00" stroke="rgb(39,39,39)" stroke-width="0.8" />
<line x1="404.20" y1="431.60" x2="404.20" y2="446.00" stroke="rgb(26,26,26)" stroke-width="0.8" />
<line x1="405.05" y1="431.60" x2="405.05" y2="446.00" stroke="rgb(20,20,20)" stroke-width="0.8" />
<line x1="407.90" y1="431.60" x2="407.90" y2="446.00" stroke="rgb(91,91,91)" stroke-width="0.8" />
<line x1="408.75" y1="431.60" x2="408.75" y2="446.00" stroke="rgb(96,96,96)" stroke-width="0.8" />
<line x1="409.60" y1="431.60" x2="409.60" y2="446.00" stroke="rgb(78,78,78)" stroke-width="0.8" />
<line x1="410.45" y1="431.60" x2="410.45" y2="446.00" stroke="rgb(107,107,107)" stroke-width="0.8" />
<line x1="411.30" y1="431.60" x2="411.30" y2="446.00" stroke="rgb(82,82,82)" stroke-width="0.8" />
<line x1="412.15" y1="431.60" x2="412.15" y2="446.00" stroke="rgb(100,100,100)" stroke-width="0.8" />
<line x1="413.00" y1="431.60" x2="413.00" y2="446.00" stroke="rgb(104,104,104)" stroke-width="0.8" />
<line x1="413.30" y1="431.60" x2="413.30" y2="446.00" stroke="rgb(42,42,42)" stroke-width="0.8" />
<line x1="414.15" y1="431.60" x2="414.15" y2="446.00" stroke="rgb(36,36,36)" stroke-width="0.8" />
<line x1="415.70" y1="431.60" x2="415.70" y2="446.00" stroke="rgb(94,94,94)" stroke-width="0.8" />
<line x1="416.55" y1="431.60" x2="416.55" y2="446.00" stroke="rgb(114,114,114)" stroke-width="0.8" />
<line x1="417.40" y1="431.60" x2="417.40" y2="446.00" stroke="rgb(101,101,101)" stroke-width="0.8" />
<line x1="418.25" y1="431.60" x2="418.25" y2="446.00" stroke="rgb(99,99,99)" stroke-width="0.8" />
<line x1="419.10" y1="431.60" x2="419.10" y2="446.00" stroke="rgb(108,108,108)" stroke-width="0.8" />
<line x1="419.95" y1="431.60" x2="419.95" y2="446.00" stroke="rgb(102,102,102)" stroke-width="0.8" />
<line x1="420.80" y1="431.60" x2="420.80" y2="446.00" stroke="rgb(117,117,117)" stroke-width="0.8" />
<line x1="422.60" y1="431.60" x2="422.60" y2="446.00" stroke="rgb(33,33,33)" stroke-width="0.8" />
<line x1="423.45" y1="431.60" x2="423.45" y2="446.00" stroke="rgb(29,29,29)" stroke-width="0.8" />
<line x1="424.70" y1="431.60" x2="424.70" y2="446.00" stroke="rgb(98,98,98)" stroke-width="0.8" />
<line x1="425.55" y1="431.60" x2="425.55" y2="446.00" stroke="rgb(106,106,106)" stroke-width="0.8" />
<line x1="426.40" y1="431.60" x2="426.40" y2="446.00" stroke="rgb(109,109,109)" stroke-width="0.8" />
<line x1="427.25" y1="431.60" x2="427.25" y2="446.00" stroke="rgb(101,101,101)" stroke-width="0.8" />
<line x1="428.10" y1="431.60" x2="428.10" y2="446.00" stroke="rgb(105,105,105)" stroke-width="0.8" />
<line x1="428.95" y1="431.60" x2="428.95" y2="446.00" stroke="rgb(110,110,110)" stroke-width="0.8" />
<line x1="433.00" y1="431.60" x2="433.00" y2="446.00" stroke="rgb(84,84,84)" stroke-width="0.8" />
<line x1="433.85" y1="431.60" x2="433.85" y2="446.00" stroke="rgb(87,87,87)" stroke-width="0.8" />
<line x1="434.70" y1="431.60" x2="434.70" y2="446.00" stroke="rgb(101,101,101)" stroke-width="0.8" />
<line x1="435.55" y1="431.60" x2="435.55" y2="446.00" stroke="rgb(91,91,91)" stroke-width="0.8" />
<line x1="436.60" y1="431.60" x2="436.60" y2="446.00" stroke="rgb(29,29,29)" stroke-width="0.8" />
<line x1="437.45" y1="431.60" x2="437.45" y2="446.00" stroke="rgb(20,20,20)" stroke-width="0.8" />
<line x1="438.60" y1="431.60" x2="438.60" y2="446.00" stroke="rgb(96,96,96)" stroke-width="0.8" />
<line x1="439.45" y1="431.60" x2="439.45" y2="446.00" stroke="rgb(110,110,110)" stroke-width="0.8" />
<line x1="440.30" y1="431.60" x2="440.30" y2="446.00" stroke="rgb(88,88,88)" stroke-width="0.8" />
<line x1="441.15" y1="431.60" x2="441.15" y2="446.00" stroke="rgb(116,116,116)" stroke-width="0.8" />
<line x1="443.00" y1="431.60" x2="443.00" y2="446.00" stroke="rgb(75,75,75)" stroke-width="0.8" />
<line x1="443.85" y1="431.60" x2="443.85" y2="446.00" stroke="rgb(64,64,64)" stroke-width="0.8" />
<line x1="444.70" y1="431.60" x2="444.70" y2="446.00" stroke="rgb(83,83,83)" stroke-width="0.8" />
<line x1="445.55" y1="431.60" x2="445.55" y2="446.00" stroke="rgb(72,72,72)" stroke-width="0.8" />
<line x1="446.40" y1="431.60" x2="446.40" y2="446.00" stroke="rgb(87,87,87)" stroke-width="0.8" />
<line x1="447.25" y1="431.60" x2="447.25" y2="446.00" stroke="rgb(67,67,67)" stroke-width="0.8" />
<line x1="448.10" y1="431.60" x2="448.10" y2="446.00" stroke="rgb(64,64,64)" stroke-width="0.8" />
<line x1="449.80" y1="431.60" x2="449.80" y2="446.00" stroke="rgb(101,101,101)" stroke-width="0.8" />
<line x1="450.65" y1="431.60" x2="450.65" y2="446.00" stroke="rgb(92,92,92)" stroke-width="0.8" />
<line x1="451.50" y1="431.60" x2="451.50" y2="446.00" stroke="rgb(109,109,109)" stroke-width="0.8" />
<line x1="452.35" y1="431.60" x2="452.35" y2="446.00" stroke="rgb(97,97,97)" stroke-width="0.8" />
<line x1="453.20" y1="431.60" x2="453.20" y2="446.00" stroke="rgb(101,101,101)" stroke-width="0.8" />
<line x1="454.05" y1="431.60" x2="454.05" y2="446.00" stroke="rgb(101,101,101)" stroke-width="0.8" />
<line x1="456.20" y1="431.60" x2="456.20" y2="446.00" stroke="rgb(94,94,94)" stroke-width="0.8" />
<line x1="457.05" y1="431.60" x2="457.05" y2="446.00" stroke="rgb(82,82,82)" stroke-width="0.8" />
<line x1="458.50" y1="431.60" x2="458.50" y2="446.00" stroke="rgb(79,79,79)" stroke-width="0.8" />
<line x1="459.35" y1="431.60" x2="459.35" y2="446.00" stroke="rgb(94,94,94)" stroke-width="0.8" />
<line x1="460.50" y1="431.60" x2="460.50" y2="446.00" stroke="rgb(88,88,88)" stroke-width="0.8" />
<line x1="461.35" y1="431.60" x2="461.35" y2="446.00" stroke="rgb(107,107,107)" stroke-width="0.8" />
<line x1="462.20" y1="431.60" x2="462.20" y2="446.00" stroke="rgb(87,87,87)" stroke-width="0.8" />
<line x1="463.50" y1="431.60" x2="463.50" y2="446.00" stroke="rgb(88,88,88)" stroke-width="0.8" />
<line x1="464.35" y1="431.60" x2="464.35" y2="446.00" stroke="rgb(77,77,77)" stroke-width="0.8" />
<line x1="465.20" y1="431.60" x2="465.20" y2="446.00" stroke="rgb(83,83,83)" stroke-width="0.8" />
<line x1="467.30" y1="431.60" x2="467.30" y2="446.00" stroke="rgb(79,79,79)" stroke-width="0.8" />
<line x1="468.15" y1="431.60" x2="468.15" y2="446.00" stroke="rgb(76,76,76)" stroke-width="0.8" />
<line x1="469.00" y1="431.60" x2="469.00" y2="446.00" stroke="rgb(67,67,67)" stroke-width="0.8" />
<line x1="469.85" y1="431.60" x2="469.85" y2="446.00" stroke="rgb(87,87,87)" stroke-width="0.8" />
<line x1="470.70" y1="431.60" x2="470.70" y2="446.00" stroke="rgb(73,73,73)" stroke-width="0.8" />
<line x1="471.55" y1="431.60" x2="471.55" y2="446.00" stroke="rgb(82,82,82)" stroke-width="0.8" />
<line x1="472.40" y1="431.60" x2="472.40" y2="446.00" stroke="rgb(84,84,84)" stroke-width="0.8" />
<line x1="474.70" y1="431.60" x2="474.70" y2="446.00" stroke="rgb(107,107,107)" stroke-width="0.8" />
<line x1="475.55" y1="431.60" x2="475.55" y2="446.00" stroke="rgb(85,85,85)" stroke-width="0.8" />
<line x1="476.40" y1="431.60" x2="476.40" y2="446.00" stroke="rgb(105,105,105)" stroke-width="0.8" />
<line x1="478.90" y1="431.60" x2="478.90" y2="446.00" stroke="rgb(101,101,101)" stroke-width="0.8" />
<line x1="479.75" y1="431.60" x2="479.75" y2="446.00" stroke="rgb(96,96,96)" stroke-width="0.8" />
<rect x="387.50" y="446.00" width="98.10" height="3.30" fill="url(#rg)"/>
<rect x="387.50" y="387.70" width="98.10" height="61.60" fill="none" stroke="#111" stroke-width="1.1"/>
<line x1="384.60" y1="389.20" x2="387.50" y2="389.20" stroke="#231f20" stroke-width="1" />
<text x="380.20" y="392.10" font-size="8.0" fill="#222" text-anchor="end" >0.5</text>
<line x1="384.60" y1="427.20" x2="387.50" y2="427.20" stroke="#231f20" stroke-width="1" />
<text x="380.20" y="430.10" font-size="8.0" fill="#222" text-anchor="end" >0</text>
<text x="391.00" y="423.10" font-size="7.6" fill="#222" text-anchor="start" textLength="30.50" lengthAdjust="spacingAndGlyphs" >198 genes</text>
<polyline points="388,427.2 388.2,405 388.6,397 389.5,394 391,392.7 393.5,392.1 396.1,391.5 399,390 402.2,388.6 405.2,388.8 410,390.6 415.3,393 420,395.7 425.4,399.1 430,402.4 435,406.2 440,410 445.6,414.3 450,417.3 455,420.6 460,424 465.8,427.8 467.8,428.7 469.5,427.6 471,428.2 473,427.1 475,427.7 476.5,426.8 478,427.6 479.5,426.2 481,426.6 482,425.9" fill="none" stroke="#58b152" stroke-width="0.9"/>
<text x="487.80" y="406.10" font-size="7.0" fill="#333" text-anchor="start" textLength="28.50" lengthAdjust="spacingAndGlyphs" >ES = 0.50</text>
<text x="487.80" y="414.10" font-size="7.0" fill="#333" text-anchor="start" textLength="28.50" lengthAdjust="spacingAndGlyphs" >FDR = 0%</text>
<text x="355.00" y="407.40" font-size="11" fill="#333" text-anchor="middle" textLength="8.80" lengthAdjust="spacingAndGlyphs" transform="rotate(-90 355.00 407.40)" dy="3.9">ES</text>
<line x1="387.50" y1="426.40" x2="485.60" y2="426.40" stroke="#bbb" stroke-width="0.5" />
<line x1="387.30" y1="449.30" x2="387.30" y2="453.30" stroke="#231f20" stroke-width="1" />
<line x1="477.30" y1="449.30" x2="477.30" y2="453.30" stroke="#231f20" stroke-width="1" />
<text x="387.30" y="465.00" font-size="8.2" fill="#222" text-anchor="middle" >1</text>
<text x="464.6" y="465.2" font-size="8.8" fill="#222" textLength="26.2" lengthAdjust="spacingAndGlyphs">1.7×10<tspan font-size="5.5" dy="-3.6">4</tspan></text>
<text x="436.20" y="460.20" font-size="6.6" fill="#222" text-anchor="middle" textLength="44.70" lengthAdjust="spacingAndGlyphs" >rank in ordered</text>
<text x="435.80" y="467.90" font-size="6.6" fill="#222" text-anchor="middle" textLength="37.70" lengthAdjust="spacingAndGlyphs" >transcript list</text>
<line x1="389.00" y1="472.30" x2="395.40" y2="472.30" stroke="#c8264a" stroke-width="1.1" />
<polygon points="386.9,472.3 390.5,470.2 390.5,474.4" fill="#c8264a"/>
<line x1="469.20" y1="472.30" x2="475.50" y2="472.30" stroke="#234a70" stroke-width="1.1" />
<polygon points="477.7,472.3 474.1,470.2 474.1,474.4" fill="#234a70"/>
<text x="391.15" y="484.60" font-size="8.6" fill="#c8264a" text-anchor="middle" font-style="italic" textLength="33.10" lengthAdjust="spacingAndGlyphs" >most up-</text>
<text x="390.75" y="494.30" font-size="8.6" fill="#c8264a" text-anchor="middle" font-style="italic" textLength="33.90" lengthAdjust="spacingAndGlyphs" >regulated</text>
<text x="389.60" y="503.60" font-size="8.6" fill="#c8264a" text-anchor="middle" font-style="italic" textLength="20.80" lengthAdjust="spacingAndGlyphs" >genes</text>
<text x="473.80" y="484.60" font-size="8.6" fill="#3b6a98" text-anchor="middle" font-style="italic" textLength="41.60" lengthAdjust="spacingAndGlyphs" >most down-</text>
<text x="473.90" y="494.30" font-size="8.6" fill="#3b6a98" text-anchor="middle" font-style="italic" textLength="33.80" lengthAdjust="spacingAndGlyphs" >regulated</text>
<text x="472.65" y="503.60" font-size="8.6" fill="#3b6a98" text-anchor="middle" font-style="italic" textLength="20.70" lengthAdjust="spacingAndGlyphs" >genes</text>
<text x="0.80" y="574.60" font-size="13.5" fill="#000" text-anchor="start" font-weight="bold" >C</text>
<text x="27.50" y="589.20" font-size="8.2" fill="#222" text-anchor="start" textLength="244.90" lengthAdjust="spacingAndGlyphs" >Leading edge (68 genes) of the IFNγ signature (198 genes):</text>
<text x="61.20" y="609.00" font-size="6.4" fill="#62b2e2" text-anchor="middle" textLength="50.00" lengthAdjust="spacingAndGlyphs" >58A2 responders</text>
<line x1="29.50" y1="614.00" x2="93.00" y2="614.00" stroke="#3c9ad6" stroke-width="1.2" />
<text x="143.50" y="609.00" font-size="6.2" fill="#f0b416" text-anchor="middle" textLength="50.00" lengthAdjust="spacingAndGlyphs" >mIgG2a controls</text>
<line x1="97.00" y1="613.90" x2="189.20" y2="613.90" stroke="#f0b416" stroke-width="1.3" />
<text x="218.70" y="604.90" font-size="6.8" fill="#222" text-anchor="middle" textLength="47.40" lengthAdjust="spacingAndGlyphs" >overlap with the</text>
<text x="218.90" y="613.00" font-size="6.8" fill="#222" text-anchor="middle" textLength="43.20" lengthAdjust="spacingAndGlyphs" >IFNα signature</text>
<g filter="url(#hb)">
<rect x="27.30" y="618.20" width="14.10" height="3.25" fill="#ef6152"/>
<rect x="27.30" y="620.95" width="14.10" height="3.25" fill="#ef6152"/>
<rect x="27.30" y="623.70" width="14.10" height="3.25" fill="#ef6152"/>
<rect x="27.30" y="626.45" width="14.10" height="3.25" fill="#e8281c"/>
<rect x="27.30" y="629.20" width="14.10" height="3.25" fill="#f6a9a4"/>
<rect x="27.30" y="631.95" width="14.10" height="3.25" fill="#f6a9a4"/>
<rect x="27.30" y="634.70" width="14.10" height="3.25" fill="#f9dcdc"/>
<rect x="27.30" y="637.45" width="14.10" height="3.25" fill="#e8281c"/>
<rect x="27.30" y="640.20" width="14.10" height="3.25" fill="#f9dcdc"/>
<rect x="27.30" y="642.95" width="14.10" height="3.25" fill="#e8281c"/>
<rect x="27.30" y="645.70" width="14.10" height="3.25" fill="#e8281c"/>
<rect x="27.30" y="648.45" width="14.10" height="3.25" fill="#f9dcdc"/>
<rect x="27.30" y="651.20" width="14.10" height="3.25" fill="#e8281c"/>
<rect x="27.30" y="653.95" width="14.10" height="3.25" fill="#f9dcdc"/>
<rect x="27.30" y="656.70" width="14.10" height="3.25" fill="#f6a9a4"/>
<rect x="27.30" y="659.45" width="14.10" height="3.25" fill="#e8281c"/>
<rect x="27.30" y="662.20" width="14.10" height="3.25" fill="#f9dcdc"/>
<rect x="27.30" y="664.95" width="14.10" height="3.25" fill="#f9dcdc"/>
<rect x="27.30" y="667.70" width="14.10" height="3.25" fill="#f6a9a4"/>
<rect x="27.30" y="670.45" width="14.10" height="3.25" fill="#e8281c"/>
<rect x="27.30" y="673.20" width="14.10" height="3.25" fill="#f6a9a4"/>
<rect x="27.30" y="675.95" width="14.10" height="3.25" fill="#f9dcdc"/>
<rect x="27.30" y="678.70" width="14.10" height="3.25" fill="#e8281c"/>
<rect x="27.30" y="681.45" width="14.10" height="3.25" fill="#f9dcdc"/>
<rect x="27.30" y="684.20" width="14.10" height="3.25" fill="#f6a9a4"/>
<rect x="27.30" y="686.95" width="14.10" height="3.25" fill="#e8281c"/>
<rect x="27.30" y="689.70" width="14.10" height="3.25" fill="#f6a9a4"/>
<rect x="27.30" y="692.45" width="14.10" height="3.25" fill="#bdb8e0"/>
<rect x="27.30" y="695.20" width="14.10" height="3.25" fill="#f6a9a4"/>
<rect x="27.30" y="697.95" width="14.10" height="3.25" fill="#e8281c"/>
<rect x="27.30" y="700.70" width="14.10" height="3.25" fill="#f6a9a4"/>
<rect x="27.30" y="703.45" width="14.10" height="3.25" fill="#f9dcdc"/>
<rect x="27.30" y="706.20" width="14.10" height="3.25" fill="#f6a9a4"/>
<rect x="27.30" y="708.95" width="14.10" height="3.25" fill="#ef6152"/>
<rect x="27.30" y="711.70" width="14.10" height="3.25" fill="#f9dcdc"/>
<rect x="27.30" y="714.45" width="14.10" height="3.25" fill="#f9dcdc"/>
<rect x="27.30" y="717.20" width="14.10" height="3.25" fill="#f6a9a4"/>
<rect x="27.30" y="719.95" width="14.10" height="3.25" fill="#e8281c"/>
<rect x="27.30" y="722.70" width="14.10" height="3.25" fill="#e8281c"/>
<rect x="27.30" y="725.45" width="14.10" height="3.25" fill="#f6a9a4"/>
<rect x="27.30" y="728.20" width="14.10" height="3.25" fill="#f6a9a4"/>
<rect x="27.30" y="730.95" width="14.10" height="3.25" fill="#f9dcdc"/>
<rect x="27.30" y="733.70" width="14.10" height="3.25" fill="#e8281c"/>
<rect x="27.30" y="736.45" width="14.10" height="3.25" fill="#f9dcdc"/>
<rect x="27.30" y="739.20" width="14.10" height="3.25" fill="#bdb8e0"/>
<rect x="27.30" y="741.95" width="14.10" height="3.25" fill="#e8281c"/>
<rect x="27.30" y="744.70" width="14.10" height="3.25" fill="#e8281c"/>
<rect x="27.30" y="747.45" width="14.10" height="3.25" fill="#f6a9a4"/>
<rect x="27.30" y="750.20" width="14.10" height="3.25" fill="#f9dcdc"/>
<rect x="27.30" y="752.95" width="14.10" height="3.25" fill="#bdb8e0"/>
<rect x="27.30" y="755.70" width="14.10" height="3.25" fill="#f9dcdc"/>
<rect x="27.30" y="758.45" width="14.10" height="3.25" fill="#e8281c"/>
<rect x="27.30" y="761.20" width="14.10" height="3.25" fill="#f6a9a4"/>
<rect x="27.30" y="763.95" width="14.10" height="3.25" fill="#bdb8e0"/>
<rect x="27.30" y="766.70" width="14.10" height="3.25" fill="#2e1c8e"/>
<rect x="27.30" y="769.45" width="14.10" height="3.25" fill="#6f66bb"/>
<rect x="27.30" y="772.20" width="14.10" height="3.25" fill="#f9dcdc"/>
<rect x="27.30" y="774.95" width="14.10" height="3.25" fill="#f6a9a4"/>
<rect x="27.30" y="777.70" width="14.10" height="3.25" fill="#f9dcdc"/>
<rect x="27.30" y="780.45" width="14.10" height="3.25" fill="#bdb8e0"/>
<rect x="27.30" y="783.20" width="14.10" height="3.25" fill="#bdb8e0"/>
<rect x="27.30" y="785.95" width="14.10" height="3.25" fill="#f6a9a4"/>
<rect x="27.30" y="788.70" width="14.10" height="3.25" fill="#f9dcdc"/>
<rect x="27.30" y="791.45" width="14.10" height="3.25" fill="#f6a9a4"/>
<rect x="27.30" y="794.20" width="14.10" height="3.25" fill="#e8281c"/>
<rect x="27.30" y="796.95" width="14.10" height="3.25" fill="#f9dcdc"/>
<rect x="27.30" y="799.70" width="14.10" height="3.25" fill="#6f66bb"/>
<rect x="27.30" y="802.45" width="14.10" height="3.25" fill="#f6a9a4"/>
<rect x="40.90" y="618.20" width="14.10" height="3.25" fill="#e8281c"/>
<rect x="40.90" y="620.95" width="14.10" height="3.25" fill="#e8281c"/>
<rect x="40.90" y="623.70" width="14.10" height="3.25" fill="#f6a9a4"/>
<rect x="40.90" y="626.45" width="14.10" height="3.25" fill="#ef6152"/>
<rect x="40.90" y="629.20" width="14.10" height="3.25" fill="#e8281c"/>
<rect x="40.90" y="631.95" width="14.10" height="3.25" fill="#e8281c"/>
<rect x="40.90" y="634.70" width="14.10" height="3.25" fill="#f6a9a4"/>
<rect x="40.90" y="637.45" width="14.10" height="3.25" fill="#ef6152"/>
<rect x="40.90" y="640.20" width="14.10" height="3.25" fill="#ef6152"/>
<rect x="40.90" y="642.95" width="14.10" height="3.25" fill="#e8281c"/>
<rect x="40.90" y="645.70" width="14.10" height="3.25" fill="#ef6152"/>
<rect x="40.90" y="648.45" width="14.10" height="3.25" fill="#ef6152"/>
<rect x="40.90" y="651.20" width="14.10" height="3.25" fill="#e8281c"/>
<rect x="40.90" y="653.95" width="14.10" height="3.25" fill="#e8281c"/>
<rect x="40.90" y="656.70" width="14.10" height="3.25" fill="#e8281c"/>
<rect x="40.90" y="659.45" width="14.10" height="3.25" fill="#e8281c"/>
<rect x="40.90" y="662.20" width="14.10" height="3.25" fill="#e8281c"/>
<rect x="40.90" y="664.95" width="14.10" height="3.25" fill="#e8281c"/>
<rect x="40.90" y="667.70" width="14.10" height="3.25" fill="#e8281c"/>
<rect x="40.90" y="670.45" width="14.10" height="3.25" fill="#f9dcdc"/>
<rect x="40.90" y="673.20" width="14.10" height="3.25" fill="#e8281c"/>
<rect x="40.90" y="675.95" width="14.10" height="3.25" fill="#e8281c"/>
<rect x="40.90" y="678.70" width="14.10" height="3.25" fill="#e8281c"/>
<rect x="40.90" y="681.45" width="14.10" height="3.25" fill="#e8281c"/>
<rect x="40.90" y="684.20" width="14.10" height="3.25" fill="#e8281c"/>
<rect x="40.90" y="686.95" width="14.10" height="3.25" fill="#bdb8e0"/>
<rect x="40.90" y="689.70" width="14.10" height="3.25" fill="#f6a9a4"/>
<rect x="40.90" y="692.45" width="14.10" height="3.25" fill="#e8281c"/>
<rect x="40.90" y="695.20" width="14.10" height="3.25" fill="#e8281c"/>
<rect x="40.90" y="697.95" width="14.10" height="3.25" fill="#f6a9a4"/>
<rect x="40.90" y="700.70" width="14.10" height="3.25" fill="#e8281c"/>
<rect x="40.90" y="703.45" width="14.10" height="3.25" fill="#f6a9a4"/>
<rect x="40.90" y="706.20" width="14.10" height="3.25" fill="#6f66bb"/>
<rect x="40.90" y="708.95" width="14.10" height="3.25" fill="#f6a9a4"/>
<rect x="40.90" y="711.70" width="14.10" height="3.25" fill="#e8281c"/>
<rect x="40.90" y="714.45" width="14.10" height="3.25" fill="#f6a9a4"/>
<rect x="40.90" y="717.20" width="14.10" height="3.25" fill="#e8281c"/>
<rect x="40.90" y="719.95" width="14.10" height="3.25" fill="#e8281c"/>
<rect x="40.90" y="722.70" width="14.10" height="3.25" fill="#f9dcdc"/>
<rect x="40.90" y="725.45" width="14.10" height="3.25" fill="#f9dcdc"/>
<rect x="40.90" y="728.20" width="14.10" height="3.25" fill="#bdb8e0"/>
<rect x="40.90" y="730.95" width="14.10" height="3.25" fill="#bdb8e0"/>
<rect x="40.90" y="733.70" width="14.10" height="3.25" fill="#f9dcdc"/>
<rect x="40.90" y="736.45" width="14.10" height="3.25" fill="#2e1c8e"/>
<rect x="40.90" y="739.20" width="14.10" height="3.25" fill="#2e1c8e"/>
<rect x="40.90" y="741.95" width="14.10" height="3.25" fill="#f9dcdc"/>
<rect x="40.90" y="744.70" width="14.10" height="3.25" fill="#e8281c"/>
<rect x="40.90" y="747.45" width="14.10" height="3.25" fill="#2e1c8e"/>
<rect x="40.90" y="750.20" width="14.10" height="3.25" fill="#2e1c8e"/>
<rect x="40.90" y="752.95" width="14.10" height="3.25" fill="#f6a9a4"/>
<rect x="40.90" y="755.70" width="14.10" height="3.25" fill="#bdb8e0"/>
<rect x="40.90" y="758.45" width="14.10" height="3.25" fill="#f9dcdc"/>
<rect x="40.90" y="761.20" width="14.10" height="3.25" fill="#f9dcdc"/>
<rect x="40.90" y="763.95" width="14.10" height="3.25" fill="#e8281c"/>
<rect x="40.90" y="766.70" width="14.10" height="3.25" fill="#2e1c8e"/>
<rect x="40.90" y="769.45" width="14.10" height="3.25" fill="#2e1c8e"/>
<rect x="40.90" y="772.20" width="14.10" height="3.25" fill="#bdb8e0"/>
<rect x="40.90" y="774.95" width="14.10" height="3.25" fill="#f9dcdc"/>
<rect x="40.90" y="777.70" width="14.10" height="3.25" fill="#bdb8e0"/>
<rect x="40.90" y="780.45" width="14.10" height="3.25" fill="#e8281c"/>
<rect x="40.90" y="783.20" width="14.10" height="3.25" fill="#e8281c"/>
<rect x="40.90" y="785.95" width="14.10" height="3.25" fill="#f6a9a4"/>
<rect x="40.90" y="788.70" width="14.10" height="3.25" fill="#f9dcdc"/>
<rect x="40.90" y="791.45" width="14.10" height="3.25" fill="#f6a9a4"/>
<rect x="40.90" y="794.20" width="14.10" height="3.25" fill="#f9dcdc"/>
<rect x="40.90" y="796.95" width="14.10" height="3.25" fill="#bdb8e0"/>
<rect x="40.90" y="799.70" width="14.10" height="3.25" fill="#e8281c"/>
<rect x="40.90" y="802.45" width="14.10" height="3.25" fill="#e8281c"/>
<rect x="54.50" y="618.20" width="14.10" height="3.25" fill="#f6a9a4"/>
<rect x="54.50" y="620.95" width="14.10" height="3.25" fill="#f9dcdc"/>
<rect x="54.50" y="623.70" width="14.10" height="3.25" fill="#ef6152"/>
<rect x="54.50" y="626.45" width="14.10" height="3.25" fill="#f9dcdc"/>
<rect x="54.50" y="629.20" width="14.10" height="3.25" fill="#f9dcdc"/>
<rect x="54.50" y="631.95" width="14.10" height="3.25" fill="#f9dcdc"/>
<rect x="54.50" y="634.70" width="14.10" height="3.25" fill="#ef6152"/>
<rect x="54.50" y="637.45" width="14.10" height="3.25" fill="#e8281c"/>
<rect x="54.50" y="640.20" width="14.10" height="3.25" fill="#e8281c"/>
<rect x="54.50" y="642.95" width="14.10" height="3.25" fill="#e8281c"/>
<rect x="54.50" y="645.70" width="14.10" height="3.25" fill="#e8281c"/>
<rect x="54.50" y="648.45" width="14.10" height="3.25" fill="#f6a9a4"/>
<rect x="54.50" y="651.20" width="14.10" height="3.25" fill="#e8281c"/>
<rect x="54.50" y="653.95" width="14.10" height="3.25" fill="#f6a9a4"/>
<rect x="54.50" y="656.70" width="14.10" height="3.25" fill="#e8281c"/>
<rect x="54.50" y="659.45" width="14.10" height="3.25" fill="#f9dcdc"/>
<rect x="54.50" y="662.20" width="14.10" height="3.25" fill="#e8281c"/>
<rect x="54.50" y="664.95" width="14.10" height="3.25" fill="#e8281c"/>
<rect x="54.50" y="667.70" width="14.10" height="3.25" fill="#e8281c"/>
<rect x="54.50" y="670.45" width="14.10" height="3.25" fill="#6f66bb"/>
<rect x="54.50" y="673.20" width="14.10" height="3.25" fill="#f9dcdc"/>
<rect x="54.50" y="675.95" width="14.10" height="3.25" fill="#f6a9a4"/>
<rect x="54.50" y="678.70" width="14.10" height="3.25" fill="#e8281c"/>
<rect x="54.50" y="681.45" width="14.10" height="3.25" fill="#f6a9a4"/>
<rect x="54.50" y="684.20" width="14.10" height="3.25" fill="#e8281c"/>
<rect x="54.50" y="686.95" width="14.10" height="3.25" fill="#6f66bb"/>
<rect x="54.50" y="689.70" width="14.10" height="3.25" fill="#bdb8e0"/>
<rect x="54.50" y="692.45" width="14.10" height="3.25" fill="#e8281c"/>
<rect x="54.50" y="695.20" width="14.10" height="3.25" fill="#f6a9a4"/>
<rect x="54.50" y="697.95" width="14.10" height="3.25" fill="#f9dcdc"/>
<rect x="54.50" y="700.70" width="14.10" height="3.25" fill="#f9dcdc"/>
<rect x="54.50" y="703.45" width="14.10" height="3.25" fill="#f6a9a4"/>
<rect x="54.50" y="706.20" width="14.10" height="3.25" fill="#f6a9a4"/>
<rect x="54.50" y="708.95" width="14.10" height="3.25" fill="#e8281c"/>
<rect x="54.50" y="711.70" width="14.10" height="3.25" fill="#e8281c"/>
<rect x="54.50" y="714.45" width="14.10" height="3.25" fill="#f6a9a4"/>
<rect x="54.50" y="717.20" width="14.10" height="3.25" fill="#f9dcdc"/>
<rect x="54.50" y="719.95" width="14.10" height="3.25" fill="#e8281c"/>
<rect x="54.50" y="722.70" width="14.10" height="3.25" fill="#f9dcdc"/>
<rect x="54.50" y="725.45" width="14.10" height="3.25" fill="#bdb8e0"/>
<rect x="54.50" y="728.20" width="14.10" height="3.25" fill="#bdb8e0"/>
<rect x="54.50" y="730.95" width="14.10" height="3.25" fill="#bdb8e0"/>
<rect x="54.50" y="733.70" width="14.10" height="3.25" fill="#f6a9a4"/>
<rect x="54.50" y="736.45" width="14.10" height="3.25" fill="#bdb8e0"/>
<rect x="54.50" y="739.20" width="14.10" height="3.25" fill="#bdb8e0"/>
<rect x="54.50" y="741.95" width="14.10" height="3.25" fill="#f9dcdc"/>
<rect x="54.50" y="744.70" width="14.10" height="3.25" fill="#f9dcdc"/>
<rect x="54.50" y="747.45" width="14.10" height="3.25" fill="#f9dcdc"/>
<rect x="54.50" y="750.20" width="14.10" height="3.25" fill="#bdb8e0"/>
<rect x="54.50" y="752.95" width="14.10" height="3.25" fill="#e8281c"/>
<rect x="54.50" y="755.70" width="14.10" height="3.25" fill="#e8281c"/>
<rect x="54.50" y="758.45" width="14.10" height="3.25" fill="#e8281c"/>
<rect x="54.50" y="761.20" width="14.10" height="3.25" fill="#e8281c"/>
<rect x="54.50" y="763.95" width="14.10" height="3.25" fill="#f9dcdc"/>
<rect x="54.50" y="766.70" width="14.10" height="3.25" fill="#e8281c"/>
<rect x="54.50" y="769.45" width="14.10" height="3.25" fill="#2e1c8e"/>
<rect x="54.50" y="772.20" width="14.10" height="3.25" fill="#f6a9a4"/>
<rect x="54.50" y="774.95" width="14.10" height="3.25" fill="#f9dcdc"/>
<rect x="54.50" y="777.70" width="14.10" height="3.25" fill="#f9dcdc"/>
<rect x="54.50" y="780.45" width="14.10" height="3.25" fill="#e8281c"/>
<rect x="54.50" y="783.20" width="14.10" height="3.25" fill="#bdb8e0"/>
<rect x="54.50" y="785.95" width="14.10" height="3.25" fill="#bdb8e0"/>
<rect x="54.50" y="788.70" width="14.10" height="3.25" fill="#f6a9a4"/>
<rect x="54.50" y="791.45" width="14.10" height="3.25" fill="#e8281c"/>
<rect x="54.50" y="794.20" width="14.10" height="3.25" fill="#e8281c"/>
<rect x="54.50" y="796.95" width="14.10" height="3.25" fill="#e8281c"/>
<rect x="54.50" y="799.70" width="14.10" height="3.25" fill="#f6a9a4"/>
<rect x="54.50" y="802.45" width="14.10" height="3.25" fill="#e8281c"/>
<rect x="68.10" y="618.20" width="14.10" height="3.25" fill="#e8281c"/>
<rect x="68.10" y="620.95" width="14.10" height="3.25" fill="#e8281c"/>
<rect x="68.10" y="623.70" width="14.10" height="3.25" fill="#e8281c"/>
<rect x="68.10" y="626.45" width="14.10" height="3.25" fill="#e8281c"/>
<rect x="68.10" y="629.20" width="14.10" height="3.25" fill="#e8281c"/>
<rect x="68.10" y="631.95" width="14.10" height="3.25" fill="#e8281c"/>
<rect x="68.10" y="634.70" width="14.10" height="3.25" fill="#e8281c"/>
<rect x="68.10" y="637.45" width="14.10" height="3.25" fill="#e8281c"/>
<rect x="68.10" y="640.20" width="14.10" height="3.25" fill="#f9dcdc"/>
<rect x="68.10" y="642.95" width="14.10" height="3.25" fill="#e8281c"/>
<rect x="68.10" y="645.70" width="14.10" height="3.25" fill="#ef6152"/>
<rect x="68.10" y="648.45" width="14.10" height="3.25" fill="#ef6152"/>
<rect x="68.10" y="651.20" width="14.10" height="3.25" fill="#e8281c"/>
<rect x="68.10" y="653.95" width="14.10" height="3.25" fill="#e8281c"/>
<rect x="68.10" y="656.70" width="14.10" height="3.25" fill="#f6a9a4"/>
<rect x="68.10" y="659.45" width="14.10" height="3.25" fill="#e8281c"/>
<rect x="68.10" y="662.20" width="14.10" height="3.25" fill="#e8281c"/>
<rect x="68.10" y="664.95" width="14.10" height="3.25" fill="#e8281c"/>
<rect x="68.10" y="667.70" width="14.10" height="3.25" fill="#e8281c"/>
<rect x="68.10" y="670.45" width="14.10" height="3.25" fill="#e8281c"/>
<rect x="68.10" y="673.20" width="14.10" height="3.25" fill="#f6a9a4"/>
<rect x="68.10" y="675.95" width="14.10" height="3.25" fill="#e8281c"/>
<rect x="68.10" y="678.70" width="14.10" height="3.25" fill="#f9dcdc"/>
<rect x="68.10" y="681.45" width="14.10" height="3.25" fill="#f6a9a4"/>
<rect x="68.10" y="684.20" width="14.10" height="3.25" fill="#bdb8e0"/>
<rect x="68.10" y="686.95" width="14.10" height="3.25" fill="#e8281c"/>
<rect x="68.10" y="689.70" width="14.10" height="3.25" fill="#e8281c"/>
<rect x="68.10" y="692.45" width="14.10" height="3.25" fill="#e8281c"/>
<rect x="68.10" y="695.20" width="14.10" height="3.25" fill="#e8281c"/>
<rect x="68.10" y="697.95" width="14.10" height="3.25" fill="#e8281c"/>
<rect x="68.10" y="700.70" width="14.10" height="3.25" fill="#e8281c"/>
<rect x="68.10" y="703.45" width="14.10" height="3.25" fill="#f6a9a4"/>
<rect x="68.10" y="706.20" width="14.10" height="3.25" fill="#e8281c"/>
<rect x="68.10" y="708.95" width="14.10" height="3.25" fill="#bdb8e0"/>
<rect x="68.10" y="711.70" width="14.10" height="3.25" fill="#bdb8e0"/>
<rect x="68.10" y="714.45" width="14.10" height="3.25" fill="#f9dcdc"/>
<rect x="68.10" y="717.20" width="14.10" height="3.25" fill="#e8281c"/>
<rect x="68.10" y="719.95" width="14.10" height="3.25" fill="#bdb8e0"/>
<rect x="68.10" y="722.70" width="14.10" height="3.25" fill="#e8281c"/>
<rect x="68.10" y="725.45" width="14.10" height="3.25" fill="#e8281c"/>
<rect x="68.10" y="728.20" width="14.10" height="3.25" fill="#e8281c"/>
<rect x="68.10" y="730.95" width="14.10" height="3.25" fill="#e8281c"/>
<rect x="68.10" y="733.70" width="14.10" height="3.25" fill="#e8281c"/>
<rect x="68.10" y="736.45" width="14.10" height="3.25" fill="#e8281c"/>
<rect x="68.10" y="739.20" width="14.10" height="3.25" fill="#e8281c"/>
<rect x="68.10" y="741.95" width="14.10" height="3.25" fill="#e8281c"/>
<rect x="68.10" y="744.70" width="14.10" height="3.25" fill="#e8281c"/>
<rect x="68.10" y="747.45" width="14.10" height="3.25" fill="#e8281c"/>
<rect x="68.10" y="750.20" width="14.10" height="3.25" fill="#e8281c"/>
<rect x="68.10" y="752.95" width="14.10" height="3.25" fill="#e8281c"/>
<rect x="68.10" y="755.70" width="14.10" height="3.25" fill="#bdb8e0"/>
<rect x="68.10" y="758.45" width="14.10" height="3.25" fill="#f9dcdc"/>
<rect x="68.10" y="761.20" width="14.10" height="3.25" fill="#bdb8e0"/>
<rect x="68.10" y="763.95" width="14.10" height="3.25" fill="#bdb8e0"/>
<rect x="68.10" y="766.70" width="14.10" height="3.25" fill="#e8281c"/>
<rect x="68.10" y="769.45" width="14.10" height="3.25" fill="#f9dcdc"/>
<rect x="68.10" y="772.20" width="14.10" height="3.25" fill="#f6a9a4"/>
<rect x="68.10" y="774.95" width="14.10" height="3.25" fill="#f9dcdc"/>
<rect x="68.10" y="777.70" width="14.10" height="3.25" fill="#e8281c"/>
<rect x="68.10" y="780.45" width="14.10" height="3.25" fill="#f9dcdc"/>
<rect x="68.10" y="783.20" width="14.10" height="3.25" fill="#f9dcdc"/>
<rect x="68.10" y="785.95" width="14.10" height="3.25" fill="#f9dcdc"/>
<rect x="68.10" y="788.70" width="14.10" height="3.25" fill="#bdb8e0"/>
<rect x="68.10" y="791.45" width="14.10" height="3.25" fill="#f9dcdc"/>
<rect x="68.10" y="794.20" width="14.10" height="3.25" fill="#e8281c"/>
<rect x="68.10" y="796.95" width="14.10" height="3.25" fill="#bdb8e0"/>
<rect x="68.10" y="799.70" width="14.10" height="3.25" fill="#bdb8e0"/>
<rect x="68.10" y="802.45" width="14.10" height="3.25" fill="#bdb8e0"/>
<rect x="81.70" y="618.20" width="14.10" height="3.25" fill="#e8281c"/>
<rect x="81.70" y="620.95" width="14.10" height="3.25" fill="#e8281c"/>
<rect x="81.70" y="623.70" width="14.10" height="3.25" fill="#e8281c"/>
<rect x="81.70" y="626.45" width="14.10" height="3.25" fill="#e8281c"/>
<rect x="81.70" y="629.20" width="14.10" height="3.25" fill="#e8281c"/>
<rect x="81.70" y="631.95" width="14.10" height="3.25" fill="#f6a9a4"/>
<rect x="81.70" y="634.70" width="14.10" height="3.25" fill="#e8281c"/>
<rect x="81.70" y="637.45" width="14.10" height="3.25" fill="#e8281c"/>
<rect x="81.70" y="640.20" width="14.10" height="3.25" fill="#e8281c"/>
<rect x="81.70" y="642.95" width="14.10" height="3.25" fill="#e8281c"/>
<rect x="81.70" y="645.70" width="14.10" height="3.25" fill="#e8281c"/>
<rect x="81.70" y="648.45" width="14.10" height="3.25" fill="#e8281c"/>
<rect x="81.70" y="651.20" width="14.10" height="3.25" fill="#e8281c"/>
<rect x="81.70" y="653.95" width="14.10" height="3.25" fill="#f6a9a4"/>
<rect x="81.70" y="656.70" width="14.10" height="3.25" fill="#e8281c"/>
<rect x="81.70" y="659.45" width="14.10" height="3.25" fill="#e8281c"/>
<rect x="81.70" y="662.20" width="14.10" height="3.25" fill="#f9dcdc"/>
<rect x="81.70" y="664.95" width="14.10" height="3.25" fill="#f6a9a4"/>
<rect x="81.70" y="667.70" width="14.10" height="3.25" fill="#e8281c"/>
<rect x="81.70" y="670.45" width="14.10" height="3.25" fill="#e8281c"/>
<rect x="81.70" y="673.20" width="14.10" height="3.25" fill="#e8281c"/>
<rect x="81.70" y="675.95" width="14.10" height="3.25" fill="#e8281c"/>
<rect x="81.70" y="678.70" width="14.10" height="3.25" fill="#e8281c"/>
<rect x="81.70" y="681.45" width="14.10" height="3.25" fill="#e8281c"/>
<rect x="81.70" y="684.20" width="14.10" height="3.25" fill="#e8281c"/>
<rect x="81.70" y="686.95" width="14.10" height="3.25" fill="#e8281c"/>
<rect x="81.70" y="689.70" width="14.10" height="3.25" fill="#e8281c"/>
<rect x="81.70" y="692.45" width="14.10" height="3.25" fill="#e8281c"/>
<rect x="81.70" y="695.20" width="14.10" height="3.25" fill="#e8281c"/>
<rect x="81.70" y="697.95" width="14.10" height="3.25" fill="#f9dcdc"/>
<rect x="81.70" y="700.70" width="14.10" height="3.25" fill="#e8281c"/>
<rect x="81.70" y="703.45" width="14.10" height="3.25" fill="#e8281c"/>
<rect x="81.70" y="706.20" width="14.10" height="3.25" fill="#e8281c"/>
<rect x="81.70" y="708.95" width="14.10" height="3.25" fill="#f6a9a4"/>
<rect x="81.70" y="711.70" width="14.10" height="3.25" fill="#e8281c"/>
<rect x="81.70" y="714.45" width="14.10" height="3.25" fill="#e8281c"/>
<rect x="81.70" y="717.20" width="14.10" height="3.25" fill="#bdb8e0"/>
<rect x="81.70" y="719.95" width="14.10" height="3.25" fill="#f9dcdc"/>
<rect x="81.70" y="722.70" width="14.10" height="3.25" fill="#f9dcdc"/>
<rect x="81.70" y="725.45" width="14.10" height="3.25" fill="#e8281c"/>
<rect x="81.70" y="728.20" width="14.10" height="3.25" fill="#e8281c"/>
<rect x="81.70" y="730.95" width="14.10" height="3.25" fill="#e8281c"/>
<rect x="81.70" y="733.70" width="14.10" height="3.25" fill="#e8281c"/>
<rect x="81.70" y="736.45" width="14.10" height="3.25" fill="#f9dcdc"/>
<rect x="81.70" y="739.20" width="14.10" height="3.25" fill="#e8281c"/>
<rect x="81.70" y="741.95" width="14.10" height="3.25" fill="#e8281c"/>
<rect x="81.70" y="744.70" width="14.10" height="3.25" fill="#e8281c"/>
<rect x="81.70" y="747.45" width="14.10" height="3.25" fill="#6f66bb"/>
<rect x="81.70" y="750.20" width="14.10" height="3.25" fill="#e8281c"/>
<rect x="81.70" y="752.95" width="14.10" height="3.25" fill="#f9dcdc"/>
<rect x="81.70" y="755.70" width="14.10" height="3.25" fill="#e8281c"/>
<rect x="81.70" y="758.45" width="14.10" height="3.25" fill="#e8281c"/>
<rect x="81.70" y="761.20" width="14.10" height="3.25" fill="#e8281c"/>
<rect x="81.70" y="763.95" width="14.10" height="3.25" fill="#e8281c"/>
<rect x="81.70" y="766.70" width="14.10" height="3.25" fill="#f9dcdc"/>
<rect x="81.70" y="769.45" width="14.10" height="3.25" fill="#e8281c"/>
<rect x="81.70" y="772.20" width="14.10" height="3.25" fill="#f9dcdc"/>
<rect x="81.70" y="774.95" width="14.10" height="3.25" fill="#e8281c"/>
<rect x="81.70" y="777.70" width="14.10" height="3.25" fill="#e8281c"/>
<rect x="81.70" y="780.45" width="14.10" height="3.25" fill="#e8281c"/>
<rect x="81.70" y="783.20" width="14.10" height="3.25" fill="#e8281c"/>
<rect x="81.70" y="785.95" width="14.10" height="3.25" fill="#6f66bb"/>
<rect x="81.70" y="788.70" width="14.10" height="3.25" fill="#e8281c"/>
<rect x="81.70" y="791.45" width="14.10" height="3.25" fill="#f9dcdc"/>
<rect x="81.70" y="794.20" width="14.10" height="3.25" fill="#e8281c"/>
<rect x="81.70" y="796.95" width="14.10" height="3.25" fill="#e8281c"/>
<rect x="81.70" y="799.70" width="14.10" height="3.25" fill="#f6a9a4"/>
<rect x="81.70" y="802.45" width="14.10" height="3.25" fill="#e8281c"/>
<rect x="95.30" y="618.20" width="14.10" height="3.25" fill="#2e1c8e"/>
<rect x="95.30" y="620.95" width="14.10" height="3.25" fill="#2e1c8e"/>
<rect x="95.30" y="623.70" width="14.10" height="3.25" fill="#2e1c8e"/>
<rect x="95.30" y="626.45" width="14.10" height="3.25" fill="#2e1c8e"/>
<rect x="95.30" y="629.20" width="14.10" height="3.25" fill="#2e1c8e"/>
<rect x="95.30" y="631.95" width="14.10" height="3.25" fill="#2e1c8e"/>
<rect x="95.30" y="634.70" width="14.10" height="3.25" fill="#2e1c8e"/>
<rect x="95.30" y="637.45" width="14.10" height="3.25" fill="#2e1c8e"/>
<rect x="95.30" y="640.20" width="14.10" height="3.25" fill="#2e1c8e"/>
<rect x="95.30" y="642.95" width="14.10" height="3.25" fill="#2e1c8e"/>
<rect x="95.30" y="645.70" width="14.10" height="3.25" fill="#2e1c8e"/>
<rect x="95.30" y="648.45" width="14.10" height="3.25" fill="#2e1c8e"/>
<rect x="95.30" y="651.20" width="14.10" height="3.25" fill="#2e1c8e"/>
<rect x="95.30" y="653.95" width="14.10" height="3.25" fill="#2e1c8e"/>
<rect x="95.30" y="656.70" width="14.10" height="3.25" fill="#2e1c8e"/>
<rect x="95.30" y="659.45" width="14.10" height="3.25" fill="#2e1c8e"/>
<rect x="95.30" y="662.20" width="14.10" height="3.25" fill="#2e1c8e"/>
<rect x="95.30" y="664.95" width="14.10" height="3.25" fill="#2e1c8e"/>
<rect x="95.30" y="667.70" width="14.10" height="3.25" fill="#2e1c8e"/>
<rect x="95.30" y="670.45" width="14.10" height="3.25" fill="#6f66bb"/>
<rect x="95.30" y="673.20" width="14.10" height="3.25" fill="#2e1c8e"/>
<rect x="95.30" y="675.95" width="14.10" height="3.25" fill="#2e1c8e"/>
<rect x="95.30" y="678.70" width="14.10" height="3.25" fill="#2e1c8e"/>
<rect x="95.30" y="681.45" width="14.10" height="3.25" fill="#2e1c8e"/>
<rect x="95.30" y="684.20" width="14.10" height="3.25" fill="#2e1c8e"/>
<rect x="95.30" y="686.95" width="14.10" height="3.25" fill="#2e1c8e"/>
<rect x="95.30" y="689.70" width="14.10" height="3.25" fill="#6f66bb"/>
<rect x="95.30" y="692.45" width="14.10" height="3.25" fill="#2e1c8e"/>
<rect x="95.30" y="695.20" width="14.10" height="3.25" fill="#6f66bb"/>
<rect x="95.30" y="697.95" width="14.10" height="3.25" fill="#2e1c8e"/>
<rect x="95.30" y="700.70" width="14.10" height="3.25" fill="#2e1c8e"/>
<rect x="95.30" y="703.45" width="14.10" height="3.25" fill="#2e1c8e"/>
<rect x="95.30" y="706.20" width="14.10" height="3.25" fill="#2e1c8e"/>
<rect x="95.30" y="708.95" width="14.10" height="3.25" fill="#2e1c8e"/>
<rect x="95.30" y="711.70" width="14.10" height="3.25" fill="#2e1c8e"/>
<rect x="95.30" y="714.45" width="14.10" height="3.25" fill="#2e1c8e"/>
<rect x="95.30" y="717.20" width="14.10" height="3.25" fill="#2e1c8e"/>
<rect x="95.30" y="719.95" width="14.10" height="3.25" fill="#6f66bb"/>
<rect x="95.30" y="722.70" width="14.10" height="3.25" fill="#6f66bb"/>
<rect x="95.30" y="725.45" width="14.10" height="3.25" fill="#2e1c8e"/>
<rect x="95.30" y="728.20" width="14.10" height="3.25" fill="#2e1c8e"/>
<rect x="95.30" y="730.95" width="14.10" height="3.25" fill="#2e1c8e"/>
<rect x="95.30" y="733.70" width="14.10" height="3.25" fill="#2e1c8e"/>
<rect x="95.30" y="736.45" width="14.10" height="3.25" fill="#2e1c8e"/>
<rect x="95.30" y="739.20" width="14.10" height="3.25" fill="#f3f0fa"/>
<rect x="95.30" y="741.95" width="14.10" height="3.25" fill="#2e1c8e"/>
<rect x="95.30" y="744.70" width="14.10" height="3.25" fill="#2e1c8e"/>
<rect x="95.30" y="747.45" width="14.10" height="3.25" fill="#f3f0fa"/>
<rect x="95.30" y="750.20" width="14.10" height="3.25" fill="#6f66bb"/>
<rect x="95.30" y="752.95" width="14.10" height="3.25" fill="#f6a9a4"/>
<rect x="95.30" y="755.70" width="14.10" height="3.25" fill="#2e1c8e"/>
<rect x="95.30" y="758.45" width="14.10" height="3.25" fill="#2e1c8e"/>
<rect x="95.30" y="761.20" width="14.10" height="3.25" fill="#2e1c8e"/>
<rect x="95.30" y="763.95" width="14.10" height="3.25" fill="#2e1c8e"/>
<rect x="95.30" y="766.70" width="14.10" height="3.25" fill="#f3f0fa"/>
<rect x="95.30" y="769.45" width="14.10" height="3.25" fill="#2e1c8e"/>
<rect x="95.30" y="772.20" width="14.10" height="3.25" fill="#2e1c8e"/>
<rect x="95.30" y="774.95" width="14.10" height="3.25" fill="#6f66bb"/>
<rect x="95.30" y="777.70" width="14.10" height="3.25" fill="#2e1c8e"/>
<rect x="95.30" y="780.45" width="14.10" height="3.25" fill="#2e1c8e"/>
<rect x="95.30" y="783.20" width="14.10" height="3.25" fill="#6f66bb"/>
<rect x="95.30" y="785.95" width="14.10" height="3.25" fill="#6f66bb"/>
<rect x="95.30" y="788.70" width="14.10" height="3.25" fill="#2e1c8e"/>
<rect x="95.30" y="791.45" width="14.10" height="3.25" fill="#2e1c8e"/>
<rect x="95.30" y="794.20" width="14.10" height="3.25" fill="#2e1c8e"/>
<rect x="95.30" y="796.95" width="14.10" height="3.25" fill="#2e1c8e"/>
<rect x="95.30" y="799.70" width="14.10" height="3.25" fill="#2e1c8e"/>
<rect x="95.30" y="802.45" width="14.10" height="3.25" fill="#2e1c8e"/>
<rect x="108.90" y="618.20" width="14.10" height="3.25" fill="#2e1c8e"/>
<rect x="108.90" y="620.95" width="14.10" height="3.25" fill="#f3f0fa"/>
<rect x="108.90" y="623.70" width="14.10" height="3.25" fill="#6f66bb"/>
<rect x="108.90" y="626.45" width="14.10" height="3.25" fill="#6f66bb"/>
<rect x="108.90" y="629.20" width="14.10" height="3.25" fill="#bdb8e0"/>
<rect x="108.90" y="631.95" width="14.10" height="3.25" fill="#2e1c8e"/>
<rect x="108.90" y="634.70" width="14.10" height="3.25" fill="#6f66bb"/>
<rect x="108.90" y="637.45" width="14.10" height="3.25" fill="#bdb8e0"/>
<rect x="108.90" y="640.20" width="14.10" height="3.25" fill="#f3f0fa"/>
<rect x="108.90" y="642.95" width="14.10" height="3.25" fill="#2e1c8e"/>
<rect x="108.90" y="645.70" width="14.10" height="3.25" fill="#f6a9a4"/>
<rect x="108.90" y="648.45" width="14.10" height="3.25" fill="#2e1c8e"/>
<rect x="108.90" y="651.20" width="14.10" height="3.25" fill="#e8281c"/>
<rect x="108.90" y="653.95" width="14.10" height="3.25" fill="#2e1c8e"/>
<rect x="108.90" y="656.70" width="14.10" height="3.25" fill="#2e1c8e"/>
<rect x="108.90" y="659.45" width="14.10" height="3.25" fill="#2e1c8e"/>
<rect x="108.90" y="662.20" width="14.10" height="3.25" fill="#2e1c8e"/>
<rect x="108.90" y="664.95" width="14.10" height="3.25" fill="#2e1c8e"/>
<rect x="108.90" y="667.70" width="14.10" height="3.25" fill="#2e1c8e"/>
<rect x="108.90" y="670.45" width="14.10" height="3.25" fill="#f3f0fa"/>
<rect x="108.90" y="673.20" width="14.10" height="3.25" fill="#e8281c"/>
<rect x="108.90" y="675.95" width="14.10" height="3.25" fill="#2e1c8e"/>
<rect x="108.90" y="678.70" width="14.10" height="3.25" fill="#bdb8e0"/>
<rect x="108.90" y="681.45" width="14.10" height="3.25" fill="#bdb8e0"/>
<rect x="108.90" y="684.20" width="14.10" height="3.25" fill="#2e1c8e"/>
<rect x="108.90" y="686.95" width="14.10" height="3.25" fill="#2e1c8e"/>
<rect x="108.90" y="689.70" width="14.10" height="3.25" fill="#f3f0fa"/>
<rect x="108.90" y="692.45" width="14.10" height="3.25" fill="#f6a9a4"/>
<rect x="108.90" y="695.20" width="14.10" height="3.25" fill="#2e1c8e"/>
<rect x="108.90" y="697.95" width="14.10" height="3.25" fill="#2e1c8e"/>
<rect x="108.90" y="700.70" width="14.10" height="3.25" fill="#2e1c8e"/>
<rect x="108.90" y="703.45" width="14.10" height="3.25" fill="#f3f0fa"/>
<rect x="108.90" y="706.20" width="14.10" height="3.25" fill="#f3f0fa"/>
<rect x="108.90" y="708.95" width="14.10" height="3.25" fill="#2e1c8e"/>
<rect x="108.90" y="711.70" width="14.10" height="3.25" fill="#2e1c8e"/>
<rect x="108.90" y="714.45" width="14.10" height="3.25" fill="#2e1c8e"/>
<rect x="108.90" y="717.20" width="14.10" height="3.25" fill="#2e1c8e"/>
<rect x="108.90" y="719.95" width="14.10" height="3.25" fill="#2e1c8e"/>
<rect x="108.90" y="722.70" width="14.10" height="3.25" fill="#2e1c8e"/>
<rect x="108.90" y="725.45" width="14.10" height="3.25" fill="#e8281c"/>
<rect x="108.90" y="728.20" width="14.10" height="3.25" fill="#f6a9a4"/>
<rect x="108.90" y="730.95" width="14.10" height="3.25" fill="#bdb8e0"/>
<rect x="108.90" y="733.70" width="14.10" height="3.25" fill="#2e1c8e"/>
<rect x="108.90" y="736.45" width="14.10" height="3.25" fill="#f3f0fa"/>
<rect x="108.90" y="739.20" width="14.10" height="3.25" fill="#bdb8e0"/>
<rect x="108.90" y="741.95" width="14.10" height="3.25" fill="#e8281c"/>
<rect x="108.90" y="744.70" width="14.10" height="3.25" fill="#e8281c"/>
<rect x="108.90" y="747.45" width="14.10" height="3.25" fill="#2e1c8e"/>
<rect x="108.90" y="750.20" width="14.10" height="3.25" fill="#bdb8e0"/>
<rect x="108.90" y="752.95" width="14.10" height="3.25" fill="#2e1c8e"/>
<rect x="108.90" y="755.70" width="14.10" height="3.25" fill="#2e1c8e"/>
<rect x="108.90" y="758.45" width="14.10" height="3.25" fill="#e8281c"/>
<rect x="108.90" y="761.20" width="14.10" height="3.25" fill="#ef6152"/>
<rect x="108.90" y="763.95" width="14.10" height="3.25" fill="#2e1c8e"/>
<rect x="108.90" y="766.70" width="14.10" height="3.25" fill="#2e1c8e"/>
<rect x="108.90" y="769.45" width="14.10" height="3.25" fill="#6f66bb"/>
<rect x="108.90" y="772.20" width="14.10" height="3.25" fill="#2e1c8e"/>
<rect x="108.90" y="774.95" width="14.10" height="3.25" fill="#e8281c"/>
<rect x="108.90" y="777.70" width="14.10" height="3.25" fill="#f3f0fa"/>
<rect x="108.90" y="780.45" width="14.10" height="3.25" fill="#f6a9a4"/>
<rect x="108.90" y="783.20" width="14.10" height="3.25" fill="#2e1c8e"/>
<rect x="108.90" y="785.95" width="14.10" height="3.25" fill="#2e1c8e"/>
<rect x="108.90" y="788.70" width="14.10" height="3.25" fill="#6f66bb"/>
<rect x="108.90" y="791.45" width="14.10" height="3.25" fill="#2e1c8e"/>
<rect x="108.90" y="794.20" width="14.10" height="3.25" fill="#e8281c"/>
<rect x="108.90" y="796.95" width="14.10" height="3.25" fill="#6f66bb"/>
<rect x="108.90" y="799.70" width="14.10" height="3.25" fill="#2e1c8e"/>
<rect x="108.90" y="802.45" width="14.10" height="3.25" fill="#2e1c8e"/>
<rect x="122.50" y="618.20" width="14.10" height="3.25" fill="#6f66bb"/>
<rect x="122.50" y="620.95" width="14.10" height="3.25" fill="#bdb8e0"/>
<rect x="122.50" y="623.70" width="14.10" height="3.25" fill="#6f66bb"/>
<rect x="122.50" y="626.45" width="14.10" height="3.25" fill="#f3f0fa"/>
<rect x="122.50" y="629.20" width="14.10" height="3.25" fill="#6f66bb"/>
<rect x="122.50" y="631.95" width="14.10" height="3.25" fill="#bdb8e0"/>
<rect x="122.50" y="634.70" width="14.10" height="3.25" fill="#bdb8e0"/>
<rect x="122.50" y="637.45" width="14.10" height="3.25" fill="#f3f0fa"/>
<rect x="122.50" y="640.20" width="14.10" height="3.25" fill="#2e1c8e"/>
<rect x="122.50" y="642.95" width="14.10" height="3.25" fill="#bdb8e0"/>
<rect x="122.50" y="645.70" width="14.10" height="3.25" fill="#6f66bb"/>
<rect x="122.50" y="648.45" width="14.10" height="3.25" fill="#bdb8e0"/>
<rect x="122.50" y="651.20" width="14.10" height="3.25" fill="#2e1c8e"/>
<rect x="122.50" y="653.95" width="14.10" height="3.25" fill="#6f66bb"/>
<rect x="122.50" y="656.70" width="14.10" height="3.25" fill="#f3f0fa"/>
<rect x="122.50" y="659.45" width="14.10" height="3.25" fill="#6f66bb"/>
<rect x="122.50" y="662.20" width="14.10" height="3.25" fill="#f3f0fa"/>
<rect x="122.50" y="664.95" width="14.10" height="3.25" fill="#f3f0fa"/>
<rect x="122.50" y="667.70" width="14.10" height="3.25" fill="#bdb8e0"/>
<rect x="122.50" y="670.45" width="14.10" height="3.25" fill="#6f66bb"/>
<rect x="122.50" y="673.20" width="14.10" height="3.25" fill="#2e1c8e"/>
<rect x="122.50" y="675.95" width="14.10" height="3.25" fill="#f3f0fa"/>
<rect x="122.50" y="678.70" width="14.10" height="3.25" fill="#2e1c8e"/>
<rect x="122.50" y="681.45" width="14.10" height="3.25" fill="#2e1c8e"/>
<rect x="122.50" y="684.20" width="14.10" height="3.25" fill="#bdb8e0"/>
<rect x="122.50" y="686.95" width="14.10" height="3.25" fill="#f3f0fa"/>
<rect x="122.50" y="689.70" width="14.10" height="3.25" fill="#6f66bb"/>
<rect x="122.50" y="692.45" width="14.10" height="3.25" fill="#bdb8e0"/>
<rect x="122.50" y="695.20" width="14.10" height="3.25" fill="#bdb8e0"/>
<rect x="122.50" y="697.95" width="14.10" height="3.25" fill="#bdb8e0"/>
<rect x="122.50" y="700.70" width="14.10" height="3.25" fill="#6f66bb"/>
<rect x="122.50" y="703.45" width="14.10" height="3.25" fill="#bdb8e0"/>
<rect x="122.50" y="706.20" width="14.10" height="3.25" fill="#f3f0fa"/>
<rect x="122.50" y="708.95" width="14.10" height="3.25" fill="#f3f0fa"/>
<rect x="122.50" y="711.70" width="14.10" height="3.25" fill="#f3f0fa"/>
<rect x="122.50" y="714.45" width="14.10" height="3.25" fill="#bdb8e0"/>
<rect x="122.50" y="717.20" width="14.10" height="3.25" fill="#bdb8e0"/>
<rect x="122.50" y="719.95" width="14.10" height="3.25" fill="#f3f0fa"/>
<rect x="122.50" y="722.70" width="14.10" height="3.25" fill="#f3f0fa"/>
<rect x="122.50" y="725.45" width="14.10" height="3.25" fill="#2e1c8e"/>
<rect x="122.50" y="728.20" width="14.10" height="3.25" fill="#2e1c8e"/>
<rect x="122.50" y="730.95" width="14.10" height="3.25" fill="#6f66bb"/>
<rect x="122.50" y="733.70" width="14.10" height="3.25" fill="#2e1c8e"/>
<rect x="122.50" y="736.45" width="14.10" height="3.25" fill="#f3f0fa"/>
<rect x="122.50" y="739.20" width="14.10" height="3.25" fill="#f3f0fa"/>
<rect x="122.50" y="741.95" width="14.10" height="3.25" fill="#2e1c8e"/>
<rect x="122.50" y="744.70" width="14.10" height="3.25" fill="#2e1c8e"/>
<rect x="122.50" y="747.45" width="14.10" height="3.25" fill="#f6a9a4"/>
<rect x="122.50" y="750.20" width="14.10" height="3.25" fill="#e8281c"/>
<rect x="122.50" y="752.95" width="14.10" height="3.25" fill="#e8281c"/>
<rect x="122.50" y="755.70" width="14.10" height="3.25" fill="#f3f0fa"/>
<rect x="122.50" y="758.45" width="14.10" height="3.25" fill="#2e1c8e"/>
<rect x="122.50" y="761.20" width="14.10" height="3.25" fill="#2e1c8e"/>
<rect x="122.50" y="763.95" width="14.10" height="3.25" fill="#f3f0fa"/>
<rect x="122.50" y="766.70" width="14.10" height="3.25" fill="#f6a9a4"/>
<rect x="122.50" y="769.45" width="14.10" height="3.25" fill="#2e1c8e"/>
<rect x="122.50" y="772.20" width="14.10" height="3.25" fill="#f6a9a4"/>
<rect x="122.50" y="774.95" width="14.10" height="3.25" fill="#f6a9a4"/>
<rect x="122.50" y="777.70" width="14.10" height="3.25" fill="#2e1c8e"/>
<rect x="122.50" y="780.45" width="14.10" height="3.25" fill="#bdb8e0"/>
<rect x="122.50" y="783.20" width="14.10" height="3.25" fill="#2e1c8e"/>
<rect x="122.50" y="785.95" width="14.10" height="3.25" fill="#f6a9a4"/>
<rect x="122.50" y="788.70" width="14.10" height="3.25" fill="#f3f0fa"/>
<rect x="122.50" y="791.45" width="14.10" height="3.25" fill="#f3f0fa"/>
<rect x="122.50" y="794.20" width="14.10" height="3.25" fill="#2e1c8e"/>
<rect x="122.50" y="796.95" width="14.10" height="3.25" fill="#f6a9a4"/>
<rect x="122.50" y="799.70" width="14.10" height="3.25" fill="#f3f0fa"/>
<rect x="122.50" y="802.45" width="14.10" height="3.25" fill="#f3f0fa"/>
<rect x="136.10" y="618.20" width="14.10" height="3.25" fill="#6f66bb"/>
<rect x="136.10" y="620.95" width="14.10" height="3.25" fill="#bdb8e0"/>
<rect x="136.10" y="623.70" width="14.10" height="3.25" fill="#6f66bb"/>
<rect x="136.10" y="626.45" width="14.10" height="3.25" fill="#f3f0fa"/>
<rect x="136.10" y="629.20" width="14.10" height="3.25" fill="#6f66bb"/>
<rect x="136.10" y="631.95" width="14.10" height="3.25" fill="#bdb8e0"/>
<rect x="136.10" y="634.70" width="14.10" height="3.25" fill="#bdb8e0"/>
<rect x="136.10" y="637.45" width="14.10" height="3.25" fill="#6f66bb"/>
<rect x="136.10" y="640.20" width="14.10" height="3.25" fill="#f3f0fa"/>
<rect x="136.10" y="642.95" width="14.10" height="3.25" fill="#bdb8e0"/>
<rect x="136.10" y="645.70" width="14.10" height="3.25" fill="#f3f0fa"/>
<rect x="136.10" y="648.45" width="14.10" height="3.25" fill="#6f66bb"/>
<rect x="136.10" y="651.20" width="14.10" height="3.25" fill="#f3f0fa"/>
<rect x="136.10" y="653.95" width="14.10" height="3.25" fill="#6f66bb"/>
<rect x="136.10" y="656.70" width="14.10" height="3.25" fill="#bdb8e0"/>
<rect x="136.10" y="659.45" width="14.10" height="3.25" fill="#f3f0fa"/>
<rect x="136.10" y="662.20" width="14.10" height="3.25" fill="#f3f0fa"/>
<rect x="136.10" y="664.95" width="14.10" height="3.25" fill="#bdb8e0"/>
<rect x="136.10" y="667.70" width="14.10" height="3.25" fill="#6f66bb"/>
<rect x="136.10" y="670.45" width="14.10" height="3.25" fill="#2e1c8e"/>
<rect x="136.10" y="673.20" width="14.10" height="3.25" fill="#bdb8e0"/>
<rect x="136.10" y="675.95" width="14.10" height="3.25" fill="#f3f0fa"/>
<rect x="136.10" y="678.70" width="14.10" height="3.25" fill="#f6a9a4"/>
<rect x="136.10" y="681.45" width="14.10" height="3.25" fill="#bdb8e0"/>
<rect x="136.10" y="684.20" width="14.10" height="3.25" fill="#6f66bb"/>
<rect x="136.10" y="686.95" width="14.10" height="3.25" fill="#2e1c8e"/>
<rect x="136.10" y="689.70" width="14.10" height="3.25" fill="#6f66bb"/>
<rect x="136.10" y="692.45" width="14.10" height="3.25" fill="#2e1c8e"/>
<rect x="136.10" y="695.20" width="14.10" height="3.25" fill="#bdb8e0"/>
<rect x="136.10" y="697.95" width="14.10" height="3.25" fill="#6f66bb"/>
<rect x="136.10" y="700.70" width="14.10" height="3.25" fill="#2e1c8e"/>
<rect x="136.10" y="703.45" width="14.10" height="3.25" fill="#f3f0fa"/>
<rect x="136.10" y="706.20" width="14.10" height="3.25" fill="#f3f0fa"/>
<rect x="136.10" y="708.95" width="14.10" height="3.25" fill="#2e1c8e"/>
<rect x="136.10" y="711.70" width="14.10" height="3.25" fill="#f3f0fa"/>
<rect x="136.10" y="714.45" width="14.10" height="3.25" fill="#bdb8e0"/>
<rect x="136.10" y="717.20" width="14.10" height="3.25" fill="#f3f0fa"/>
<rect x="136.10" y="719.95" width="14.10" height="3.25" fill="#bdb8e0"/>
<rect x="136.10" y="722.70" width="14.10" height="3.25" fill="#f6a9a4"/>
<rect x="136.10" y="725.45" width="14.10" height="3.25" fill="#bdb8e0"/>
<rect x="136.10" y="728.20" width="14.10" height="3.25" fill="#2e1c8e"/>
<rect x="136.10" y="730.95" width="14.10" height="3.25" fill="#2e1c8e"/>
<rect x="136.10" y="733.70" width="14.10" height="3.25" fill="#2e1c8e"/>
<rect x="136.10" y="736.45" width="14.10" height="3.25" fill="#2e1c8e"/>
<rect x="136.10" y="739.20" width="14.10" height="3.25" fill="#6f66bb"/>
<rect x="136.10" y="741.95" width="14.10" height="3.25" fill="#2e1c8e"/>
<rect x="136.10" y="744.70" width="14.10" height="3.25" fill="#2e1c8e"/>
<rect x="136.10" y="747.45" width="14.10" height="3.25" fill="#bdb8e0"/>
<rect x="136.10" y="750.20" width="14.10" height="3.25" fill="#6f66bb"/>
<rect x="136.10" y="752.95" width="14.10" height="3.25" fill="#f3f0fa"/>
<rect x="136.10" y="755.70" width="14.10" height="3.25" fill="#f3f0fa"/>
<rect x="136.10" y="758.45" width="14.10" height="3.25" fill="#2e1c8e"/>
<rect x="136.10" y="761.20" width="14.10" height="3.25" fill="#e8281c"/>
<rect x="136.10" y="763.95" width="14.10" height="3.25" fill="#f6a9a4"/>
<rect x="136.10" y="766.70" width="14.10" height="3.25" fill="#f3f0fa"/>
<rect x="136.10" y="769.45" width="14.10" height="3.25" fill="#bdb8e0"/>
<rect x="136.10" y="772.20" width="14.10" height="3.25" fill="#bdb8e0"/>
<rect x="136.10" y="774.95" width="14.10" height="3.25" fill="#f3f0fa"/>
<rect x="136.10" y="777.70" width="14.10" height="3.25" fill="#e8281c"/>
<rect x="136.10" y="780.45" width="14.10" height="3.25" fill="#6f66bb"/>
<rect x="136.10" y="783.20" width="14.10" height="3.25" fill="#e8281c"/>
<rect x="136.10" y="785.95" width="14.10" height="3.25" fill="#f3f0fa"/>
<rect x="136.10" y="788.70" width="14.10" height="3.25" fill="#f3f0fa"/>
<rect x="136.10" y="791.45" width="14.10" height="3.25" fill="#bdb8e0"/>
<rect x="136.10" y="794.20" width="14.10" height="3.25" fill="#6f66bb"/>
<rect x="136.10" y="796.95" width="14.10" height="3.25" fill="#f3f0fa"/>
<rect x="136.10" y="799.70" width="14.10" height="3.25" fill="#f6a9a4"/>
<rect x="136.10" y="802.45" width="14.10" height="3.25" fill="#f6a9a4"/>
<rect x="149.70" y="618.20" width="14.10" height="3.25" fill="#2e1c8e"/>
<rect x="149.70" y="620.95" width="14.10" height="3.25" fill="#2e1c8e"/>
<rect x="149.70" y="623.70" width="14.10" height="3.25" fill="#2e1c8e"/>
<rect x="149.70" y="626.45" width="14.10" height="3.25" fill="#2e1c8e"/>
<rect x="149.70" y="629.20" width="14.10" height="3.25" fill="#2e1c8e"/>
<rect x="149.70" y="631.95" width="14.10" height="3.25" fill="#2e1c8e"/>
<rect x="149.70" y="634.70" width="14.10" height="3.25" fill="#2e1c8e"/>
<rect x="149.70" y="637.45" width="14.10" height="3.25" fill="#2e1c8e"/>
<rect x="149.70" y="640.20" width="14.10" height="3.25" fill="#2e1c8e"/>
<rect x="149.70" y="642.95" width="14.10" height="3.25" fill="#2e1c8e"/>
<rect x="149.70" y="645.70" width="14.10" height="3.25" fill="#2e1c8e"/>
<rect x="149.70" y="648.45" width="14.10" height="3.25" fill="#6f66bb"/>
<rect x="149.70" y="651.20" width="14.10" height="3.25" fill="#2e1c8e"/>
<rect x="149.70" y="653.95" width="14.10" height="3.25" fill="#2e1c8e"/>
<rect x="149.70" y="656.70" width="14.10" height="3.25" fill="#2e1c8e"/>
<rect x="149.70" y="659.45" width="14.10" height="3.25" fill="#f3f0fa"/>
<rect x="149.70" y="662.20" width="14.10" height="3.25" fill="#2e1c8e"/>
<rect x="149.70" y="664.95" width="14.10" height="3.25" fill="#2e1c8e"/>
<rect x="149.70" y="667.70" width="14.10" height="3.25" fill="#6f66bb"/>
<rect x="149.70" y="670.45" width="14.10" height="3.25" fill="#2e1c8e"/>
<rect x="149.70" y="673.20" width="14.10" height="3.25" fill="#2e1c8e"/>
<rect x="149.70" y="675.95" width="14.10" height="3.25" fill="#bdb8e0"/>
<rect x="149.70" y="678.70" width="14.10" height="3.25" fill="#6f66bb"/>
<rect x="149.70" y="681.45" width="14.10" height="3.25" fill="#bdb8e0"/>
<rect x="149.70" y="684.20" width="14.10" height="3.25" fill="#6f66bb"/>
<rect x="149.70" y="686.95" width="14.10" height="3.25" fill="#f3f0fa"/>
<rect x="149.70" y="689.70" width="14.10" height="3.25" fill="#2e1c8e"/>
<rect x="149.70" y="692.45" width="14.10" height="3.25" fill="#2e1c8e"/>
<rect x="149.70" y="695.20" width="14.10" height="3.25" fill="#2e1c8e"/>
<rect x="149.70" y="697.95" width="14.10" height="3.25" fill="#2e1c8e"/>
<rect x="149.70" y="700.70" width="14.10" height="3.25" fill="#bdb8e0"/>
<rect x="149.70" y="703.45" width="14.10" height="3.25" fill="#2e1c8e"/>
<rect x="149.70" y="706.20" width="14.10" height="3.25" fill="#2e1c8e"/>
<rect x="149.70" y="708.95" width="14.10" height="3.25" fill="#f6a9a4"/>
<rect x="149.70" y="711.70" width="14.10" height="3.25" fill="#bdb8e0"/>
<rect x="149.70" y="714.45" width="14.10" height="3.25" fill="#f3f0fa"/>
<rect x="149.70" y="717.20" width="14.10" height="3.25" fill="#f3f0fa"/>
<rect x="149.70" y="719.95" width="14.10" height="3.25" fill="#f3f0fa"/>
<rect x="149.70" y="722.70" width="14.10" height="3.25" fill="#2e1c8e"/>
<rect x="149.70" y="725.45" width="14.10" height="3.25" fill="#2e1c8e"/>
<rect x="149.70" y="728.20" width="14.10" height="3.25" fill="#2e1c8e"/>
<rect x="149.70" y="730.95" width="14.10" height="3.25" fill="#2e1c8e"/>
<rect x="149.70" y="733.70" width="14.10" height="3.25" fill="#2e1c8e"/>
<rect x="149.70" y="736.45" width="14.10" height="3.25" fill="#2e1c8e"/>
<rect x="149.70" y="739.20" width="14.10" height="3.25" fill="#6f66bb"/>
<rect x="149.70" y="741.95" width="14.10" height="3.25" fill="#2e1c8e"/>
<rect x="149.70" y="744.70" width="14.10" height="3.25" fill="#2e1c8e"/>
<rect x="149.70" y="747.45" width="14.10" height="3.25" fill="#2e1c8e"/>
<rect x="149.70" y="750.20" width="14.10" height="3.25" fill="#f3f0fa"/>
<rect x="149.70" y="752.95" width="14.10" height="3.25" fill="#bdb8e0"/>
<rect x="149.70" y="755.70" width="14.10" height="3.25" fill="#bdb8e0"/>
<rect x="149.70" y="758.45" width="14.10" height="3.25" fill="#2e1c8e"/>
<rect x="149.70" y="761.20" width="14.10" height="3.25" fill="#2e1c8e"/>
<rect x="149.70" y="763.95" width="14.10" height="3.25" fill="#f3f0fa"/>
<rect x="149.70" y="766.70" width="14.10" height="3.25" fill="#2e1c8e"/>
<rect x="149.70" y="769.45" width="14.10" height="3.25" fill="#2e1c8e"/>
<rect x="149.70" y="772.20" width="14.10" height="3.25" fill="#f6a9a4"/>
<rect x="149.70" y="774.95" width="14.10" height="3.25" fill="#2e1c8e"/>
<rect x="149.70" y="777.70" width="14.10" height="3.25" fill="#2e1c8e"/>
<rect x="149.70" y="780.45" width="14.10" height="3.25" fill="#f3f0fa"/>
<rect x="149.70" y="783.20" width="14.10" height="3.25" fill="#2e1c8e"/>
<rect x="149.70" y="785.95" width="14.10" height="3.25" fill="#f3f0fa"/>
<rect x="149.70" y="788.70" width="14.10" height="3.25" fill="#f3f0fa"/>
<rect x="149.70" y="791.45" width="14.10" height="3.25" fill="#f3f0fa"/>
<rect x="149.70" y="794.20" width="14.10" height="3.25" fill="#2e1c8e"/>
<rect x="149.70" y="796.95" width="14.10" height="3.25" fill="#f3f0fa"/>
<rect x="149.70" y="799.70" width="14.10" height="3.25" fill="#f6a9a4"/>
<rect x="149.70" y="802.45" width="14.10" height="3.25" fill="#2e1c8e"/>
<rect x="163.30" y="618.20" width="14.10" height="3.25" fill="#2e1c8e"/>
<rect x="163.30" y="620.95" width="14.10" height="3.25" fill="#2e1c8e"/>
<rect x="163.30" y="623.70" width="14.10" height="3.25" fill="#2e1c8e"/>
<rect x="163.30" y="626.45" width="14.10" height="3.25" fill="#2e1c8e"/>
<rect x="163.30" y="629.20" width="14.10" height="3.25" fill="#2e1c8e"/>
<rect x="163.30" y="631.95" width="14.10" height="3.25" fill="#6f66bb"/>
<rect x="163.30" y="634.70" width="14.10" height="3.25" fill="#2e1c8e"/>
<rect x="163.30" y="637.45" width="14.10" height="3.25" fill="#2e1c8e"/>
<rect x="163.30" y="640.20" width="14.10" height="3.25" fill="#2e1c8e"/>
<rect x="163.30" y="642.95" width="14.10" height="3.25" fill="#2e1c8e"/>
<rect x="163.30" y="645.70" width="14.10" height="3.25" fill="#2e1c8e"/>
<rect x="163.30" y="648.45" width="14.10" height="3.25" fill="#2e1c8e"/>
<rect x="163.30" y="651.20" width="14.10" height="3.25" fill="#2e1c8e"/>
<rect x="163.30" y="653.95" width="14.10" height="3.25" fill="#f6a9a4"/>
<rect x="163.30" y="656.70" width="14.10" height="3.25" fill="#2e1c8e"/>
<rect x="163.30" y="659.45" width="14.10" height="3.25" fill="#2e1c8e"/>
<rect x="163.30" y="662.20" width="14.10" height="3.25" fill="#2e1c8e"/>
<rect x="163.30" y="664.95" width="14.10" height="3.25" fill="#2e1c8e"/>
<rect x="163.30" y="667.70" width="14.10" height="3.25" fill="#2e1c8e"/>
<rect x="163.30" y="670.45" width="14.10" height="3.25" fill="#6f66bb"/>
<rect x="163.30" y="673.20" width="14.10" height="3.25" fill="#2e1c8e"/>
<rect x="163.30" y="675.95" width="14.10" height="3.25" fill="#2e1c8e"/>
<rect x="163.30" y="678.70" width="14.10" height="3.25" fill="#2e1c8e"/>
<rect x="163.30" y="681.45" width="14.10" height="3.25" fill="#2e1c8e"/>
<rect x="163.30" y="684.20" width="14.10" height="3.25" fill="#2e1c8e"/>
<rect x="163.30" y="686.95" width="14.10" height="3.25" fill="#2e1c8e"/>
<rect x="163.30" y="689.70" width="14.10" height="3.25" fill="#2e1c8e"/>
<rect x="163.30" y="692.45" width="14.10" height="3.25" fill="#f6a9a4"/>
<rect x="163.30" y="695.20" width="14.10" height="3.25" fill="#f6a9a4"/>
<rect x="163.30" y="697.95" width="14.10" height="3.25" fill="#ef6152"/>
<rect x="163.30" y="700.70" width="14.10" height="3.25" fill="#2e1c8e"/>
<rect x="163.30" y="703.45" width="14.10" height="3.25" fill="#bdb8e0"/>
<rect x="163.30" y="706.20" width="14.10" height="3.25" fill="#2e1c8e"/>
<rect x="163.30" y="708.95" width="14.10" height="3.25" fill="#2e1c8e"/>
<rect x="163.30" y="711.70" width="14.10" height="3.25" fill="#2e1c8e"/>
<rect x="163.30" y="714.45" width="14.10" height="3.25" fill="#2e1c8e"/>
<rect x="163.30" y="717.20" width="14.10" height="3.25" fill="#2e1c8e"/>
<rect x="163.30" y="719.95" width="14.10" height="3.25" fill="#2e1c8e"/>
<rect x="163.30" y="722.70" width="14.10" height="3.25" fill="#f3f0fa"/>
<rect x="163.30" y="725.45" width="14.10" height="3.25" fill="#2e1c8e"/>
<rect x="163.30" y="728.20" width="14.10" height="3.25" fill="#e8281c"/>
<rect x="163.30" y="730.95" width="14.10" height="3.25" fill="#e8281c"/>
<rect x="163.30" y="733.70" width="14.10" height="3.25" fill="#f6a9a4"/>
<rect x="163.30" y="736.45" width="14.10" height="3.25" fill="#f6a9a4"/>
<rect x="163.30" y="739.20" width="14.10" height="3.25" fill="#2e1c8e"/>
<rect x="163.30" y="741.95" width="14.10" height="3.25" fill="#2e1c8e"/>
<rect x="163.30" y="744.70" width="14.10" height="3.25" fill="#f6a9a4"/>
<rect x="163.30" y="747.45" width="14.10" height="3.25" fill="#f3f0fa"/>
<rect x="163.30" y="750.20" width="14.10" height="3.25" fill="#2e1c8e"/>
<rect x="163.30" y="752.95" width="14.10" height="3.25" fill="#2e1c8e"/>
<rect x="163.30" y="755.70" width="14.10" height="3.25" fill="#2e1c8e"/>
<rect x="163.30" y="758.45" width="14.10" height="3.25" fill="#f6a9a4"/>
<rect x="163.30" y="761.20" width="14.10" height="3.25" fill="#2e1c8e"/>
<rect x="163.30" y="763.95" width="14.10" height="3.25" fill="#2e1c8e"/>
<rect x="163.30" y="766.70" width="14.10" height="3.25" fill="#f3f0fa"/>
<rect x="163.30" y="769.45" width="14.10" height="3.25" fill="#f3f0fa"/>
<rect x="163.30" y="772.20" width="14.10" height="3.25" fill="#2e1c8e"/>
<rect x="163.30" y="774.95" width="14.10" height="3.25" fill="#2e1c8e"/>
<rect x="163.30" y="777.70" width="14.10" height="3.25" fill="#6f66bb"/>
<rect x="163.30" y="780.45" width="14.10" height="3.25" fill="#2e1c8e"/>
<rect x="163.30" y="783.20" width="14.10" height="3.25" fill="#f3f0fa"/>
<rect x="163.30" y="785.95" width="14.10" height="3.25" fill="#2e1c8e"/>
<rect x="163.30" y="788.70" width="14.10" height="3.25" fill="#2e1c8e"/>
<rect x="163.30" y="791.45" width="14.10" height="3.25" fill="#2e1c8e"/>
<rect x="163.30" y="794.20" width="14.10" height="3.25" fill="#2e1c8e"/>
<rect x="163.30" y="796.95" width="14.10" height="3.25" fill="#2e1c8e"/>
<rect x="163.30" y="799.70" width="14.10" height="3.25" fill="#6f66bb"/>
<rect x="163.30" y="802.45" width="14.10" height="3.25" fill="#2e1c8e"/>
<rect x="176.90" y="618.20" width="14.10" height="3.25" fill="#f9dcdc"/>
<rect x="176.90" y="620.95" width="14.10" height="3.25" fill="#bdb8e0"/>
<rect x="176.90" y="623.70" width="14.10" height="3.25" fill="#f9dcdc"/>
<rect x="176.90" y="626.45" width="14.10" height="3.25" fill="#f6a9a4"/>
<rect x="176.90" y="629.20" width="14.10" height="3.25" fill="#bdb8e0"/>
<rect x="176.90" y="631.95" width="14.10" height="3.25" fill="#f9dcdc"/>
<rect x="176.90" y="634.70" width="14.10" height="3.25" fill="#f9dcdc"/>
<rect x="176.90" y="637.45" width="14.10" height="3.25" fill="#bdb8e0"/>
<rect x="176.90" y="640.20" width="14.10" height="3.25" fill="#e8281c"/>
<rect x="176.90" y="642.95" width="14.10" height="3.25" fill="#e8281c"/>
<rect x="176.90" y="645.70" width="14.10" height="3.25" fill="#f9dcdc"/>
<rect x="176.90" y="648.45" width="14.10" height="3.25" fill="#e8281c"/>
<rect x="176.90" y="651.20" width="14.10" height="3.25" fill="#bdb8e0"/>
<rect x="176.90" y="653.95" width="14.10" height="3.25" fill="#f6a9a4"/>
<rect x="176.90" y="656.70" width="14.10" height="3.25" fill="#e8281c"/>
<rect x="176.90" y="659.45" width="14.10" height="3.25" fill="#e8281c"/>
<rect x="176.90" y="662.20" width="14.10" height="3.25" fill="#e8281c"/>
<rect x="176.90" y="664.95" width="14.10" height="3.25" fill="#e8281c"/>
<rect x="176.90" y="667.70" width="14.10" height="3.25" fill="#e8281c"/>
<rect x="176.90" y="670.45" width="14.10" height="3.25" fill="#6f66bb"/>
<rect x="176.90" y="673.20" width="14.10" height="3.25" fill="#f9dcdc"/>
<rect x="176.90" y="675.95" width="14.10" height="3.25" fill="#e8281c"/>
<rect x="176.90" y="678.70" width="14.10" height="3.25" fill="#f9dcdc"/>
<rect x="176.90" y="681.45" width="14.10" height="3.25" fill="#e8281c"/>
<rect x="176.90" y="684.20" width="14.10" height="3.25" fill="#f6a9a4"/>
<rect x="176.90" y="686.95" width="14.10" height="3.25" fill="#e8281c"/>
<rect x="176.90" y="689.70" width="14.10" height="3.25" fill="#6f66bb"/>
<rect x="176.90" y="692.45" width="14.10" height="3.25" fill="#bdb8e0"/>
<rect x="176.90" y="695.20" width="14.10" height="3.25" fill="#e8281c"/>
<rect x="176.90" y="697.95" width="14.10" height="3.25" fill="#f9dcdc"/>
<rect x="176.90" y="700.70" width="14.10" height="3.25" fill="#e8281c"/>
<rect x="176.90" y="703.45" width="14.10" height="3.25" fill="#bdb8e0"/>
<rect x="176.90" y="706.20" width="14.10" height="3.25" fill="#bdb8e0"/>
<rect x="176.90" y="708.95" width="14.10" height="3.25" fill="#e8281c"/>
<rect x="176.90" y="711.70" width="14.10" height="3.25" fill="#e8281c"/>
<rect x="176.90" y="714.45" width="14.10" height="3.25" fill="#e8281c"/>
<rect x="176.90" y="717.20" width="14.10" height="3.25" fill="#e8281c"/>
<rect x="176.90" y="719.95" width="14.10" height="3.25" fill="#f6a9a4"/>
<rect x="176.90" y="722.70" width="14.10" height="3.25" fill="#f9dcdc"/>
<rect x="176.90" y="725.45" width="14.10" height="3.25" fill="#f9dcdc"/>
<rect x="176.90" y="728.20" width="14.10" height="3.25" fill="#6f66bb"/>
<rect x="176.90" y="730.95" width="14.10" height="3.25" fill="#6f66bb"/>
<rect x="176.90" y="733.70" width="14.10" height="3.25" fill="#f6a9a4"/>
<rect x="176.90" y="736.45" width="14.10" height="3.25" fill="#f6a9a4"/>
<rect x="176.90" y="739.20" width="14.10" height="3.25" fill="#2e1c8e"/>
<rect x="176.90" y="741.95" width="14.10" height="3.25" fill="#f9dcdc"/>
<rect x="176.90" y="744.70" width="14.10" height="3.25" fill="#f9dcdc"/>
<rect x="176.90" y="747.45" width="14.10" height="3.25" fill="#2e1c8e"/>
<rect x="176.90" y="750.20" width="14.10" height="3.25" fill="#f9dcdc"/>
<rect x="176.90" y="752.95" width="14.10" height="3.25" fill="#e8281c"/>
<rect x="176.90" y="755.70" width="14.10" height="3.25" fill="#e8281c"/>
<rect x="176.90" y="758.45" width="14.10" height="3.25" fill="#6f66bb"/>
<rect x="176.90" y="761.20" width="14.10" height="3.25" fill="#e8281c"/>
<rect x="176.90" y="763.95" width="14.10" height="3.25" fill="#e8281c"/>
<rect x="176.90" y="766.70" width="14.10" height="3.25" fill="#f6a9a4"/>
<rect x="176.90" y="769.45" width="14.10" height="3.25" fill="#f9dcdc"/>
<rect x="176.90" y="772.20" width="14.10" height="3.25" fill="#f9dcdc"/>
<rect x="176.90" y="774.95" width="14.10" height="3.25" fill="#e8281c"/>
<rect x="176.90" y="777.70" width="14.10" height="3.25" fill="#6f66bb"/>
<rect x="176.90" y="780.45" width="14.10" height="3.25" fill="#e8281c"/>
<rect x="176.90" y="783.20" width="14.10" height="3.25" fill="#e8281c"/>
<rect x="176.90" y="785.95" width="14.10" height="3.25" fill="#6f66bb"/>
<rect x="176.90" y="788.70" width="14.10" height="3.25" fill="#e8281c"/>
<rect x="176.90" y="791.45" width="14.10" height="3.25" fill="#e8281c"/>
<rect x="176.90" y="794.20" width="14.10" height="3.25" fill="#6f66bb"/>
<rect x="176.90" y="796.95" width="14.10" height="3.25" fill="#e8281c"/>
<rect x="176.90" y="799.70" width="14.10" height="3.25" fill="#e8281c"/>
<rect x="176.90" y="802.45" width="14.10" height="3.25" fill="#e8281c"/>
</g>
<rect x="27.30" y="618.20" width="163.20" height="187.00" fill="none" stroke="#111" stroke-width="1.1"/>
<line x1="95.30" y1="618.20" x2="95.30" y2="805.20" stroke="#231f20" stroke-width="1.1" />
<rect x="16.3" y="618.7" width="2.9" height="62.5" fill="url(#cs)"/>
<text x="15.60" y="622.90" font-size="5.0" fill="#444" text-anchor="end" >1.000</text>
<text x="15.60" y="652.70" font-size="5.0" fill="#444" text-anchor="end" >0.000</text>
<text x="15.60" y="682.50" font-size="5.0" fill="#444" text-anchor="end" >–1.000</text>
<rect x="201.80" y="617.60" width="15.90" height="187.70" fill="#111"/>
<rect x="203.20" y="618.40" width="13.10" height="2.35" fill="#fff"/>
<rect x="203.20" y="632.15" width="13.10" height="2.35" fill="#fff"/>
<rect x="203.20" y="648.65" width="13.10" height="7.85" fill="#fff"/>
<rect x="203.20" y="665.15" width="13.10" height="2.35" fill="#fff"/>
<rect x="203.20" y="673.40" width="13.10" height="2.35" fill="#fff"/>
<rect x="203.20" y="678.90" width="13.10" height="2.35" fill="#fff"/>
<rect x="203.20" y="687.15" width="13.10" height="2.35" fill="#fff"/>
<rect x="203.20" y="692.65" width="13.10" height="2.35" fill="#fff"/>
<rect x="203.20" y="700.90" width="13.10" height="2.35" fill="#fff"/>
<rect x="203.20" y="706.40" width="13.10" height="5.10" fill="#fff"/>
<rect x="203.20" y="720.15" width="13.10" height="2.35" fill="#fff"/>
<rect x="203.20" y="731.15" width="13.10" height="2.35" fill="#fff"/>
<rect x="203.20" y="742.15" width="13.10" height="7.85" fill="#fff"/>
<rect x="203.20" y="758.65" width="13.10" height="5.10" fill="#fff"/>
<rect x="203.20" y="769.65" width="13.10" height="2.35" fill="#fff"/>
<rect x="203.20" y="775.15" width="13.10" height="5.10" fill="#fff"/>
<rect x="203.20" y="783.40" width="13.10" height="7.85" fill="#fff"/>
<rect x="203.20" y="794.40" width="13.10" height="5.10" fill="#fff"/>
<rect x="203.20" y="802.65" width="13.10" height="2.35" fill="#fff"/>
<rect x="200.80" y="622.20" width="18.00" height="4.90" fill="#1a0808" stroke="#c8102e" stroke-width="1.3"/>
<rect x="200.80" y="650.40" width="18.00" height="3.50" fill="#f8e0e0" stroke="#c8102e" stroke-width="1.2"/>
<line x1="230.50" y1="625.60" x2="327.00" y2="625.60" stroke="#231f20" stroke-width="1.2" />
<polygon points="331.4,625.6 325,622.6 325,628.6" fill="#231f20"/>
<polyline points="232.1,651.3 237.5,651.3 237.5,734 327,734" fill="none" stroke="#231f20" stroke-width="1.2"/>
<polygon points="331.4,734 325,731 325,737" fill="#231f20"/>
<text x="335.80" y="573.30" font-size="13.5" fill="#000" text-anchor="start" font-weight="bold" >D</text>
<line x1="385.30" y1="587.60" x2="385.30" y2="666.80" stroke="#231f20" stroke-width="1.1" />
<line x1="385.30" y1="666.80" x2="515.70" y2="666.80" stroke="#231f20" stroke-width="1.1" />
<line x1="382.50" y1="589.60" x2="385.30" y2="589.60" stroke="#231f20" stroke-width="1" />
<text x="377.90" y="592.30" font-size="7.5" fill="#333" text-anchor="end" >10000</text>
<line x1="382.50" y1="608.80" x2="385.30" y2="608.80" stroke="#231f20" stroke-width="1" />
<text x="377.90" y="611.50" font-size="7.5" fill="#333" text-anchor="end" >7500</text>
<line x1="382.50" y1="628.00" x2="385.30" y2="628.00" stroke="#231f20" stroke-width="1" />
<text x="377.90" y="630.70" font-size="7.5" fill="#333" text-anchor="end" >5000</text>
<line x1="382.50" y1="647.30" x2="385.30" y2="647.30" stroke="#231f20" stroke-width="1" />
<text x="377.90" y="650.00" font-size="7.5" fill="#333" text-anchor="end" >2500</text>
<line x1="382.50" y1="666.80" x2="385.30" y2="666.80" stroke="#231f20" stroke-width="1" />
<text x="377.90" y="669.50" font-size="7.5" fill="#333" text-anchor="end" >0</text>
<line x1="385.40" y1="666.80" x2="385.40" y2="669.80" stroke="#231f20" stroke-width="1" />
<text x="386.00" y="680.50" font-size="8.0" fill="#333" text-anchor="middle" >0</text>
<line x1="417.10" y1="666.80" x2="417.10" y2="669.80" stroke="#231f20" stroke-width="1" />
<text x="417.70" y="680.50" font-size="8.0" fill="#333" text-anchor="middle" >50</text>
<line x1="448.80" y1="666.80" x2="448.80" y2="669.80" stroke="#231f20" stroke-width="1" />
<text x="449.40" y="680.50" font-size="8.0" fill="#333" text-anchor="middle" >100</text>
<line x1="480.50" y1="666.80" x2="480.50" y2="669.80" stroke="#231f20" stroke-width="1" />
<text x="481.10" y="680.50" font-size="8.0" fill="#333" text-anchor="middle" >150</text>
<line x1="512.20" y1="666.80" x2="512.20" y2="669.80" stroke="#231f20" stroke-width="1" />
<text x="512.80" y="680.50" font-size="8.0" fill="#333" text-anchor="middle" >200</text>
<text x="405.6" y="601.0999999999999" font-size="8.2" fill="#222">R<tspan font-size="6.6" dy="-3.0">2</tspan><tspan dy="3.0"> = 0.60</tspan></text>
<rect x="385.30" y="602.60" width="4.40" height="4.40" fill="#3aa8dc"/>
<rect x="388.00" y="600.70" width="4.40" height="4.40" fill="#3aa8dc"/>
<rect x="389.90" y="616.80" width="4.40" height="4.40" fill="#3aa8dc"/>
<rect x="395.30" y="628.10" width="4.40" height="4.40" fill="#3aa8dc"/>
<rect x="398.50" y="631.60" width="4.40" height="4.40" fill="#3aa8dc"/>
<circle cx="388.90" cy="615.50" r="2.4" fill="#4a1650"/>
<circle cx="417.50" cy="644.80" r="2.5" fill="#f0b416"/>
<circle cx="434.80" cy="640.20" r="2.5" fill="#f0b416"/>
<circle cx="446.30" cy="646.30" r="2.5" fill="#f0b416"/>
<circle cx="466.20" cy="657.10" r="2.5" fill="#f0b416"/>
<circle cx="472.90" cy="635.20" r="2.5" fill="#f0b416"/>
<circle cx="481.20" cy="657.30" r="2.5" fill="#f0b416"/>
<circle cx="503.90" cy="647.30" r="2.5" fill="#f0b416"/>
<polygon points="421.50,641.86 418.90,646.84 424.10,646.84" fill="#5a3412"/>
<polygon points="429.40,633.46 426.80,638.44 432.00,638.44" fill="#5a3412"/>
<polygon points="433.60,628.66 431.00,633.64 436.20,633.64" fill="#5a3412"/>
<polygon points="433.10,633.36 430.50,638.34 435.70,638.34" fill="#5a3412"/>
<polygon points="453.30,634.06 450.70,639.04 455.90,639.04" fill="#5a3412"/>
<line x1="386.70" y1="620.90" x2="506.50" y2="660.80" stroke="#231f20" stroke-width="1.3" />
<line x1="385.30" y1="695.40" x2="385.30" y2="774.00" stroke="#231f20" stroke-width="1.1" />
<line x1="385.30" y1="774.00" x2="515.70" y2="774.00" stroke="#231f20" stroke-width="1.1" />
<line x1="382.50" y1="697.70" x2="385.30" y2="697.70" stroke="#231f20" stroke-width="1" />
<text x="377.90" y="700.40" font-size="7.5" fill="#333" text-anchor="end" >2000</text>
<line x1="382.50" y1="716.90" x2="385.30" y2="716.90" stroke="#231f20" stroke-width="1" />
<text x="377.90" y="719.60" font-size="7.5" fill="#333" text-anchor="end" >1500</text>
<line x1="382.50" y1="735.80" x2="385.30" y2="735.80" stroke="#231f20" stroke-width="1" />
<text x="377.90" y="738.50" font-size="7.5" fill="#333" text-anchor="end" >1000</text>
<line x1="382.50" y1="754.60" x2="385.30" y2="754.60" stroke="#231f20" stroke-width="1" />
<text x="377.90" y="757.30" font-size="7.5" fill="#333" text-anchor="end" >500</text>
<line x1="382.50" y1="774.00" x2="385.30" y2="774.00" stroke="#231f20" stroke-width="1" />
<text x="377.90" y="776.70" font-size="7.5" fill="#333" text-anchor="end" >0</text>
<line x1="385.40" y1="774.00" x2="385.40" y2="777.00" stroke="#231f20" stroke-width="1" />
<text x="386.00" y="787.70" font-size="8.0" fill="#333" text-anchor="middle" >0</text>
<line x1="417.10" y1="774.00" x2="417.10" y2="777.00" stroke="#231f20" stroke-width="1" />
<text x="417.70" y="787.70" font-size="8.0" fill="#333" text-anchor="middle" >50</text>
<line x1="448.80" y1="774.00" x2="448.80" y2="777.00" stroke="#231f20" stroke-width="1" />
<text x="449.40" y="787.70" font-size="8.0" fill="#333" text-anchor="middle" >100</text>
<line x1="480.50" y1="774.00" x2="480.50" y2="777.00" stroke="#231f20" stroke-width="1" />
<text x="481.10" y="787.70" font-size="8.0" fill="#333" text-anchor="middle" >150</text>
<line x1="512.20" y1="774.00" x2="512.20" y2="777.00" stroke="#231f20" stroke-width="1" />
<text x="512.80" y="787.70" font-size="8.0" fill="#333" text-anchor="middle" >200</text>
<text x="411.0" y="706.3" font-size="8.2" fill="#222">R<tspan font-size="6.6" dy="-3.0">2</tspan><tspan dy="3.0"> = 0.55</tspan></text>
<rect x="385.30" y="718.00" width="4.40" height="4.40" fill="#3aa8dc"/>
<rect x="394.50" y="710.70" width="4.40" height="4.40" fill="#3aa8dc"/>
<rect x="385.90" y="724.10" width="4.40" height="4.40" fill="#3aa8dc"/>
<rect x="389.10" y="726.30" width="4.40" height="4.40" fill="#3aa8dc"/>
<rect x="397.20" y="726.00" width="4.40" height="4.40" fill="#3aa8dc"/>
<circle cx="418.50" cy="747.10" r="2.5" fill="#f0b416"/>
<circle cx="436.00" cy="720.40" r="2.5" fill="#f0b416"/>
<circle cx="446.50" cy="736.60" r="2.5" fill="#f0b416"/>
<circle cx="468.00" cy="761.40" r="2.5" fill="#f0b416"/>
<circle cx="475.90" cy="741.20" r="2.5" fill="#f0b416"/>
<circle cx="484.50" cy="756.50" r="2.5" fill="#f0b416"/>
<circle cx="505.70" cy="754.90" r="2.5" fill="#f0b416"/>
<polygon points="419.60,734.46 417.00,739.44 422.20,739.44" fill="#5a3412"/>
<polygon points="429.80,746.06 427.20,751.04 432.40,751.04" fill="#5a3412"/>
<polygon points="432.50,717.56 429.90,722.54 435.10,722.54" fill="#5a3412"/>
<polygon points="433.00,722.86 430.40,727.84 435.60,727.84" fill="#5a3412"/>
<polygon points="452.70,750.86 450.10,755.84 455.30,755.84" fill="#5a3412"/>
<line x1="385.90" y1="722.30" x2="506.50" y2="759.50" stroke="#231f20" stroke-width="1.3" />
<text x="340.00" y="626.30" font-size="8.4" fill="#222" text-anchor="middle" textLength="10.40" lengthAdjust="spacingAndGlyphs" transform="rotate(-90 340.00 626.30)" dy="2.6">Irf7</text>
<text x="350.70" y="627.20" font-size="8.0" fill="#222" text-anchor="middle" textLength="39.30" lengthAdjust="spacingAndGlyphs" transform="rotate(-90 350.70 627.20)" dy="2.6">(read count)</text>
<text x="340.60" y="733.80" font-size="8.4" fill="#222" text-anchor="middle" textLength="16.50" lengthAdjust="spacingAndGlyphs" transform="rotate(-90 340.60 733.80)" dy="2.6">Nlrc5</text>
<text x="350.70" y="734.10" font-size="8.0" fill="#222" text-anchor="middle" textLength="39.30" lengthAdjust="spacingAndGlyphs" transform="rotate(-90 350.70 734.10)" dy="2.6">(read count)</text>
<text x="450.4" y="801.6" font-size="8.0" fill="#333" text-anchor="middle" textLength="31.1" lengthAdjust="spacingAndGlyphs">GFP<tspan font-size="4.8" dy="-2.6">+</tspan><tspan dy="2.6"> WBC</tspan></text>
<text x="453.6" y="811.2" font-size="8.0" fill="#333" text-anchor="middle" textLength="41.5" lengthAdjust="spacingAndGlyphs">(10<tspan font-size="4.8" dy="-2.6">3</tspan><tspan dy="2.6">/µl blood)</tspan></text>
</svg></body></html>
